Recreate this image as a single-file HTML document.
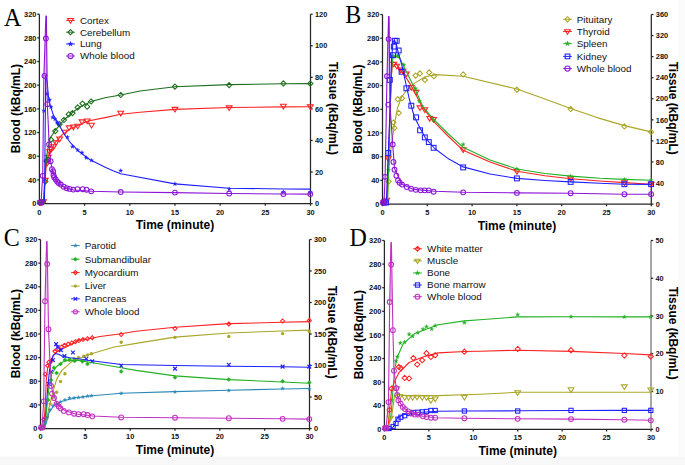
<!DOCTYPE html><html><head><meta charset="utf-8"><style>html,body{margin:0;padding:0;background:#fff;}svg{display:block;}</style></head><body>
<svg width="685" height="465" viewBox="0 0 685 465">
<rect width="685" height="465" fill="#fff"/>
<rect x="0" y="456.5" width="685" height="9" fill="#f7f7f7"/>
<rect x="678" y="0" width="7" height="456.5" fill="#fbfbfb"/>
<g stroke="#262626" stroke-width="1.25" fill="none">
<path d="M39.4 14.2V203.6H310.5"/>
<path d="M310.5 203.6V14.2" stroke="#262626" stroke-width="1.25"/>
<path d="M37.2 203.6H39.4"/>
<path d="M37.2 179.92H39.4"/>
<path d="M37.2 156.25H39.4"/>
<path d="M37.2 132.57H39.4"/>
<path d="M37.2 108.9H39.4"/>
<path d="M37.2 85.22H39.4"/>
<path d="M37.2 61.55H39.4"/>
<path d="M37.2 37.88H39.4"/>
<path d="M37.2 14.2H39.4"/>
<path d="M310.5 203.6H312.7"/>
<path d="M310.5 172.03H312.7"/>
<path d="M310.5 140.47H312.7"/>
<path d="M310.5 108.9H312.7"/>
<path d="M310.5 77.33H312.7"/>
<path d="M310.5 45.77H312.7"/>
<path d="M310.5 14.2H312.7"/>
<path d="M39.4 203.6V205.8"/>
<path d="M84.58 203.6V205.8"/>
<path d="M129.77 203.6V205.8"/>
<path d="M174.95 203.6V205.8"/>
<path d="M220.13 203.6V205.8"/>
<path d="M265.32 203.6V205.8"/>
<path d="M310.5 203.6V205.8"/>
</g>
<g font-family='"Liberation Sans", sans-serif' font-size="7.4" font-weight="bold" fill="#111">
<text transform="translate(36.35 206.3) scale(1 1.08)" text-anchor="end">0</text>
<text transform="translate(36.35 182.62) scale(1 1.08)" text-anchor="end">40</text>
<text transform="translate(36.35 158.95) scale(1 1.08)" text-anchor="end">80</text>
<text transform="translate(36.35 135.27) scale(1 1.08)" text-anchor="end">120</text>
<text transform="translate(36.35 111.6) scale(1 1.08)" text-anchor="end">160</text>
<text transform="translate(36.35 87.92) scale(1 1.08)" text-anchor="end">200</text>
<text transform="translate(36.35 64.25) scale(1 1.08)" text-anchor="end">240</text>
<text transform="translate(36.35 40.58) scale(1 1.08)" text-anchor="end">280</text>
<text transform="translate(36.35 16.9) scale(1 1.08)" text-anchor="end">320</text>
<text transform="translate(315 206.3) scale(1 1.08)" text-anchor="start">0</text>
<text transform="translate(315 174.73) scale(1 1.08)" text-anchor="start">20</text>
<text transform="translate(315 143.17) scale(1 1.08)" text-anchor="start">40</text>
<text transform="translate(315 111.6) scale(1 1.08)" text-anchor="start">60</text>
<text transform="translate(315 80.03) scale(1 1.08)" text-anchor="start">80</text>
<text transform="translate(315 48.47) scale(1 1.08)" text-anchor="start">100</text>
<text transform="translate(315 16.9) scale(1 1.08)" text-anchor="start">120</text>
<text transform="translate(39.4 214.5) scale(1 1.08)" text-anchor="middle">0</text>
<text transform="translate(84.58 214.5) scale(1 1.08)" text-anchor="middle">5</text>
<text transform="translate(129.77 214.5) scale(1 1.08)" text-anchor="middle">10</text>
<text transform="translate(174.95 214.5) scale(1 1.08)" text-anchor="middle">15</text>
<text transform="translate(220.13 214.5) scale(1 1.08)" text-anchor="middle">20</text>
<text transform="translate(265.32 214.5) scale(1 1.08)" text-anchor="middle">25</text>
<text transform="translate(310.5 214.5) scale(1 1.08)" text-anchor="middle">30</text>
</g>
<text x="174.95" y="229.4" font-family='"Liberation Sans", sans-serif' font-size="12" font-weight="bold" text-anchor="middle" fill="#000" >Time (minute)</text>
<text transform="translate(20.2 108.6) rotate(-90)" font-family='"Liberation Sans", sans-serif' font-size="12" font-weight="bold" text-anchor="middle">Blood (kBq/mL)</text>
<text transform="translate(328.9 108.4) rotate(90)" font-family='"Liberation Sans", sans-serif' font-size="12" font-weight="bold" text-anchor="middle">Tissue (kBq/mL)</text>
<text transform="translate(3.9 26.1) scale(1 1.07)" font-family='"Liberation Serif", serif' font-size="24">A</text>
<path d="M66.2 20.4H74.8" stroke="#ff2222" stroke-width="1"/>
<polygon points="67.59,18.59 73.41,18.59 70.5,23.25" fill="white" fill-opacity="0" stroke="#ff2222" stroke-width="1.05"/>
<text x="79.9" y="23.7" font-family='"Liberation Sans", sans-serif' font-size="9.85" font-weight="normal" text-anchor="start" fill="#111" >Cortex</text>
<path d="M66.2 32.2H74.8" stroke="#1d6e1d" stroke-width="1"/>
<polygon points="70.5,29.6 73.1,32.2 70.5,34.8 67.9,32.2" fill="none" stroke="#1d6e1d" stroke-width="1.05"/>
<text x="79.9" y="35.5" font-family='"Liberation Sans", sans-serif' font-size="9.85" font-weight="normal" text-anchor="start" fill="#111" >Cerebellum</text>
<path d="M66.2 44H74.8" stroke="#1f1fff" stroke-width="1"/>
<polygon points="70.5,41.27 71.14,43.12 73.1,43.16 71.54,44.34 72.1,46.21 70.5,45.09 68.9,46.21 69.46,44.34 67.9,43.16 69.86,43.12" fill="#1f1fff" stroke="#1f1fff" stroke-width="0.3"/>
<text x="79.9" y="47.3" font-family='"Liberation Sans", sans-serif' font-size="9.85" font-weight="normal" text-anchor="start" fill="#111" >Lung</text>
<path d="M66.2 56H74.8" stroke="#8c16d8" stroke-width="1"/>
<circle cx="70.5" cy="56" r="2.6" fill="none" stroke="#8c16d8" stroke-width="1.05"/>
<text x="79.9" y="59.3" font-family='"Liberation Sans", sans-serif' font-size="9.85" font-weight="normal" text-anchor="start" fill="#111" >Whole blood</text>
<polyline points="40.5,203.3 43.5,203 44.5,190 46,168 48,157 50.2,151.8 55.3,142.3 62.2,134.6 70.8,128.5 88,121 105,117.6 120.73,114.3 140,112.2 174.95,109.4 229.17,107.5 283.39,106.9 310.3,106.7" fill="none" stroke="#ff2222" stroke-width="1.1" stroke-linejoin="round" stroke-linecap="round" opacity="1.0"/>
<polygon points="37.59,200.69 43.41,200.69 40.5,205.35" fill="white" fill-opacity="0" stroke="#ff2222" stroke-width="1.05"/>
<polygon points="39.09,200.69 44.91,200.69 42,205.35" fill="white" fill-opacity="0" stroke="#ff2222" stroke-width="1.05"/>
<polygon points="40.59,199.69 46.41,199.69 43.5,204.35" fill="white" fill-opacity="0" stroke="#ff2222" stroke-width="1.05"/>
<polygon points="117.82,111.29 123.64,111.29 120.73,115.95" fill="white" fill-opacity="0" stroke="#ff2222" stroke-width="1.05"/>
<polygon points="88.59,123.29 94.41,123.29 91.5,127.95" fill="white" fill-opacity="0" stroke="#ff2222" stroke-width="1.05"/>
<polygon points="84.29,118.99 90.11,118.99 87.2,123.65" fill="white" fill-opacity="0" stroke="#ff2222" stroke-width="1.05"/>
<polygon points="79.09,119.89 84.91,119.89 82,124.55" fill="white" fill-opacity="0" stroke="#ff2222" stroke-width="1.05"/>
<polygon points="74.79,124.19 80.61,124.19 77.7,128.85" fill="white" fill-opacity="0" stroke="#ff2222" stroke-width="1.05"/>
<polygon points="70.49,124.99 76.31,124.99 73.4,129.65" fill="white" fill-opacity="0" stroke="#ff2222" stroke-width="1.05"/>
<polygon points="66.19,125.89 72.01,125.89 69.1,130.55" fill="white" fill-opacity="0" stroke="#ff2222" stroke-width="1.05"/>
<polygon points="61.89,130.19 67.71,130.19 64.8,134.85" fill="white" fill-opacity="0" stroke="#ff2222" stroke-width="1.05"/>
<polygon points="56.69,137.09 62.51,137.09 59.6,141.75" fill="white" fill-opacity="0" stroke="#ff2222" stroke-width="1.05"/>
<polygon points="53.09,140.69 58.91,140.69 56,145.35" fill="white" fill-opacity="0" stroke="#ff2222" stroke-width="1.05"/>
<polygon points="50.69,144.79 56.51,144.79 53.6,149.45" fill="white" fill-opacity="0" stroke="#ff2222" stroke-width="1.05"/>
<polygon points="48.59,147.19 54.41,147.19 51.5,151.85" fill="white" fill-opacity="0" stroke="#ff2222" stroke-width="1.05"/>
<polygon points="46.69,149.69 52.51,149.69 49.6,154.35" fill="white" fill-opacity="0" stroke="#ff2222" stroke-width="1.05"/>
<polygon points="45.39,155.19 51.21,155.19 48.3,159.85" fill="white" fill-opacity="0" stroke="#ff2222" stroke-width="1.05"/>
<polygon points="44.39,161.19 50.21,161.19 47.3,165.85" fill="white" fill-opacity="0" stroke="#ff2222" stroke-width="1.05"/>
<polygon points="42.39,178.39 48.21,178.39 45.3,183.05" fill="white" fill-opacity="0" stroke="#ff2222" stroke-width="1.05"/>
<polygon points="172.04,107.39 177.86,107.39 174.95,112.05" fill="white" fill-opacity="0" stroke="#ff2222" stroke-width="1.05"/>
<polygon points="226.26,105.89 232.08,105.89 229.17,110.55" fill="white" fill-opacity="0" stroke="#ff2222" stroke-width="1.05"/>
<polygon points="280.48,104.29 286.3,104.29 283.39,108.95" fill="white" fill-opacity="0" stroke="#ff2222" stroke-width="1.05"/>
<polygon points="307.39,104.89 313.21,104.89 310.3,109.55" fill="white" fill-opacity="0" stroke="#ff2222" stroke-width="1.05"/>
<polyline points="41,203.3 43.5,200 45,175 46,160 48,148 50.2,138 55.3,130.3 63.9,120 72.5,112.5 80,107 91.1,101.5 105,97.8 120.73,95 140,91 174.95,86.8 229.17,84.6 283.39,83.8 310.3,83.6" fill="none" stroke="#1d6e1d" stroke-width="1.1" stroke-linejoin="round" stroke-linecap="round" opacity="1.0"/>
<polygon points="41,199.9 43.6,202.5 41,205.1 38.4,202.5" fill="none" stroke="#1d6e1d" stroke-width="1.05"/>
<polygon points="43,199.4 45.6,202 43,204.6 40.4,202" fill="none" stroke="#1d6e1d" stroke-width="1.05"/>
<polygon points="120.73,92.4 123.33,95 120.73,97.6 118.13,95" fill="none" stroke="#1d6e1d" stroke-width="1.05"/>
<polygon points="91.1,98.9 93.7,101.5 91.1,104.1 88.5,101.5" fill="none" stroke="#1d6e1d" stroke-width="1.05"/>
<polygon points="87.2,104.1 89.8,106.7 87.2,109.3 84.6,106.7" fill="none" stroke="#1d6e1d" stroke-width="1.05"/>
<polygon points="82.5,101 85.1,103.6 82.5,106.2 79.9,103.6" fill="none" stroke="#1d6e1d" stroke-width="1.05"/>
<polygon points="77.7,104.8 80.3,107.4 77.7,110 75.1,107.4" fill="none" stroke="#1d6e1d" stroke-width="1.05"/>
<polygon points="72.5,110.5 75.1,113.1 72.5,115.7 69.9,113.1" fill="none" stroke="#1d6e1d" stroke-width="1.05"/>
<polygon points="68.7,111.7 71.3,114.3 68.7,116.9 66.1,114.3" fill="none" stroke="#1d6e1d" stroke-width="1.05"/>
<polygon points="63.9,117.4 66.5,120 63.9,122.6 61.3,120" fill="none" stroke="#1d6e1d" stroke-width="1.05"/>
<polygon points="59.6,121.6 62.2,124.2 59.6,126.8 57,124.2" fill="none" stroke="#1d6e1d" stroke-width="1.05"/>
<polygon points="55.3,128.5 57.9,131.1 55.3,133.7 52.7,131.1" fill="none" stroke="#1d6e1d" stroke-width="1.05"/>
<polygon points="51,137.1 53.6,139.7 51,142.3 48.4,139.7" fill="none" stroke="#1d6e1d" stroke-width="1.05"/>
<polygon points="47.9,157 50.5,159.6 47.9,162.2 45.3,159.6" fill="none" stroke="#1d6e1d" stroke-width="1.05"/>
<polygon points="46.6,158.3 49.2,160.9 46.6,163.5 44,160.9" fill="none" stroke="#1d6e1d" stroke-width="1.05"/>
<polygon points="45.3,179 47.9,181.6 45.3,184.2 42.7,181.6" fill="none" stroke="#1d6e1d" stroke-width="1.05"/>
<polygon points="174.95,84 177.55,86.6 174.95,89.2 172.35,86.6" fill="none" stroke="#1d6e1d" stroke-width="1.05"/>
<polygon points="229.17,82.5 231.77,85.1 229.17,87.7 226.57,85.1" fill="none" stroke="#1d6e1d" stroke-width="1.05"/>
<polygon points="283.39,80.8 285.99,83.4 283.39,86 280.79,83.4" fill="none" stroke="#1d6e1d" stroke-width="1.05"/>
<polygon points="310.3,81 312.9,83.6 310.3,86.2 307.7,83.6" fill="none" stroke="#1d6e1d" stroke-width="1.05"/>
<polyline points="42,203.3 44.5,200 45.7,75.2 47.2,82 48.4,96.7 50.2,105.3 53.6,115.6 58.8,124.2 63.9,133.7 70.8,143.2 79.4,151.8 89.7,159.5 105.2,167.3 113,170.8 120.73,173.8 174.95,183.9 229.17,188.2 283.39,189 310.3,189.1" fill="none" stroke="#1f1fff" stroke-width="1.1" stroke-linejoin="round" stroke-linecap="round" opacity="1.0"/>
<polygon points="47,91.7 47.52,93.19 49.1,93.22 47.84,94.17 48.3,95.68 47,94.78 45.7,95.68 46.16,94.17 44.9,93.22 46.48,93.19" fill="#1f1fff" stroke="#1f1fff" stroke-width="0.3"/>
<polygon points="49.6,97.5 50.12,98.99 51.7,99.02 50.44,99.97 50.9,101.48 49.6,100.58 48.3,101.48 48.76,99.97 47.5,99.02 49.08,98.99" fill="#1f1fff" stroke="#1f1fff" stroke-width="0.3"/>
<polygon points="51,104.8 51.52,106.29 53.1,106.32 51.84,107.27 52.3,108.78 51,107.88 49.7,108.78 50.16,107.27 48.9,106.32 50.48,106.29" fill="#1f1fff" stroke="#1f1fff" stroke-width="0.3"/>
<polygon points="43.8,108.39 44.32,109.89 45.9,109.92 44.64,110.87 45.1,112.38 43.8,111.48 42.5,112.38 42.96,110.87 41.7,109.92 43.28,109.89" fill="#1f1fff" stroke="#1f1fff" stroke-width="0.3"/>
<polygon points="52.7,115.2 53.22,116.69 54.8,116.72 53.54,117.67 54,119.18 52.7,118.28 51.4,119.18 51.86,117.67 50.6,116.72 52.18,116.69" fill="#1f1fff" stroke="#1f1fff" stroke-width="0.3"/>
<polygon points="55,116.89 55.52,118.39 57.1,118.42 55.84,119.37 56.3,120.88 55,119.98 53.7,120.88 54.16,119.37 52.9,118.42 54.48,118.39" fill="#1f1fff" stroke="#1f1fff" stroke-width="0.3"/>
<polygon points="57,120.3 57.52,121.79 59.1,121.82 57.84,122.77 58.3,124.28 57,123.38 55.7,124.28 56.16,122.77 54.9,121.82 56.48,121.79" fill="#1f1fff" stroke="#1f1fff" stroke-width="0.3"/>
<polygon points="58.6,122 59.12,123.49 60.7,123.52 59.44,124.47 59.9,125.98 58.6,125.08 57.3,125.98 57.76,124.47 56.5,123.52 58.08,123.49" fill="#1f1fff" stroke="#1f1fff" stroke-width="0.3"/>
<polygon points="67.4,134.99 67.92,136.49 69.5,136.52 68.24,137.47 68.7,138.98 67.4,138.08 66.1,138.98 66.56,137.47 65.3,136.52 66.88,136.49" fill="#1f1fff" stroke="#1f1fff" stroke-width="0.3"/>
<polygon points="72.5,144.39 73.02,145.89 74.6,145.92 73.34,146.87 73.8,148.38 72.5,147.48 71.2,148.38 71.66,146.87 70.4,145.92 71.98,145.89" fill="#1f1fff" stroke="#1f1fff" stroke-width="0.3"/>
<polygon points="77.7,147.89 78.22,149.39 79.8,149.42 78.54,150.37 79,151.88 77.7,150.98 76.4,151.88 76.86,150.37 75.6,149.42 77.18,149.39" fill="#1f1fff" stroke="#1f1fff" stroke-width="0.3"/>
<polygon points="82,150.39 82.52,151.89 84.1,151.92 82.84,152.87 83.3,154.38 82,153.48 80.7,154.38 81.16,152.87 79.9,151.92 81.48,151.89" fill="#1f1fff" stroke="#1f1fff" stroke-width="0.3"/>
<polygon points="86.3,155.59 86.82,157.09 88.4,157.12 87.14,158.07 87.6,159.58 86.3,158.68 85,159.58 85.46,158.07 84.2,157.12 85.78,157.09" fill="#1f1fff" stroke="#1f1fff" stroke-width="0.3"/>
<polygon points="91.5,158.19 92.02,159.69 93.6,159.72 92.34,160.67 92.8,162.18 91.5,161.28 90.2,162.18 90.66,160.67 89.4,159.72 90.98,159.69" fill="#1f1fff" stroke="#1f1fff" stroke-width="0.3"/>
<polygon points="120.73,168.49 121.25,169.99 122.83,170.02 121.57,170.97 122.03,172.48 120.73,171.58 119.43,172.48 119.89,170.97 118.63,170.02 120.21,169.99" fill="#1f1fff" stroke="#1f1fff" stroke-width="0.3"/>
<polygon points="174.95,181.69 175.47,183.19 177.05,183.22 175.79,184.17 176.25,185.68 174.95,184.78 173.65,185.68 174.11,184.17 172.85,183.22 174.43,183.19" fill="#1f1fff" stroke="#1f1fff" stroke-width="0.3"/>
<polygon points="229.17,186.79 229.69,188.29 231.27,188.32 230.01,189.27 230.47,190.78 229.17,189.88 227.87,190.78 228.33,189.27 227.07,188.32 228.65,188.29" fill="#1f1fff" stroke="#1f1fff" stroke-width="0.3"/>
<polygon points="283.39,189.79 283.91,191.29 285.49,191.32 284.23,192.27 284.69,193.78 283.39,192.88 282.09,193.78 282.55,192.27 281.29,191.32 282.87,191.29" fill="#1f1fff" stroke="#1f1fff" stroke-width="0.3"/>
<polygon points="310.3,189.79 310.82,191.29 312.4,191.32 311.14,192.27 311.6,193.78 310.3,192.88 309,193.78 309.46,192.27 308.2,191.32 309.78,191.29" fill="#1f1fff" stroke="#1f1fff" stroke-width="0.3"/>
<polygon points="43.9,76 45.9,16 46.5,16 47.6,76" fill="#8c16d8" opacity="0.3"/>
<polyline points="39.4,203.3 41,203 42.7,175.8 43.9,76 45.9,16 46.4,16 47.3,104.5 48.3,125 49.3,148 50.8,162.5 53,172.5 56,180.5 60,184.5 65,187.8 73.7,190 91.7,191.2 120.73,192 174.95,192.6 229.17,193.5 283.39,194 310.3,194.1" fill="none" stroke="#8c16d8" stroke-width="1.1" stroke-linejoin="round" stroke-linecap="round" opacity="1.0"/>
<circle cx="40" cy="202.5" r="2.4" fill="none" stroke="#8c16d8" stroke-width="1.05"/>
<circle cx="41.5" cy="202.5" r="2.4" fill="none" stroke="#8c16d8" stroke-width="1.05"/>
<circle cx="42.7" cy="175.8" r="2.4" fill="none" stroke="#8c16d8" stroke-width="1.05"/>
<circle cx="44.5" cy="75.8" r="2.4" fill="none" stroke="#8c16d8" stroke-width="1.05"/>
<circle cx="45.9" cy="38.5" r="2.4" fill="none" stroke="#8c16d8" stroke-width="1.05"/>
<circle cx="47.3" cy="104.2" r="2.4" fill="none" stroke="#8c16d8" stroke-width="1.05"/>
<circle cx="49.1" cy="144.4" r="2.4" fill="none" stroke="#8c16d8" stroke-width="1.05"/>
<circle cx="50.6" cy="161.2" r="2.4" fill="none" stroke="#8c16d8" stroke-width="1.05"/>
<circle cx="52" cy="169.2" r="2.4" fill="none" stroke="#8c16d8" stroke-width="1.05"/>
<circle cx="53.2" cy="171.4" r="2.4" fill="none" stroke="#8c16d8" stroke-width="1.05"/>
<circle cx="53.5" cy="175" r="2.4" fill="none" stroke="#8c16d8" stroke-width="1.05"/>
<circle cx="54.2" cy="177.2" r="2.4" fill="none" stroke="#8c16d8" stroke-width="1.05"/>
<circle cx="55.7" cy="179.4" r="2.4" fill="none" stroke="#8c16d8" stroke-width="1.05"/>
<circle cx="57.2" cy="181.6" r="2.4" fill="none" stroke="#8c16d8" stroke-width="1.05"/>
<circle cx="58.6" cy="183" r="2.4" fill="none" stroke="#8c16d8" stroke-width="1.05"/>
<circle cx="60.8" cy="184.5" r="2.4" fill="none" stroke="#8c16d8" stroke-width="1.05"/>
<circle cx="63.7" cy="186.7" r="2.4" fill="none" stroke="#8c16d8" stroke-width="1.05"/>
<circle cx="66.7" cy="188.2" r="2.4" fill="none" stroke="#8c16d8" stroke-width="1.05"/>
<circle cx="69.6" cy="188.9" r="2.4" fill="none" stroke="#8c16d8" stroke-width="1.05"/>
<circle cx="73.2" cy="189.6" r="2.4" fill="none" stroke="#8c16d8" stroke-width="1.05"/>
<circle cx="77.5" cy="189.2" r="2.4" fill="none" stroke="#8c16d8" stroke-width="1.05"/>
<circle cx="82.7" cy="189.2" r="2.4" fill="none" stroke="#8c16d8" stroke-width="1.05"/>
<circle cx="86.5" cy="189.7" r="2.4" fill="none" stroke="#8c16d8" stroke-width="1.05"/>
<circle cx="91.2" cy="191.3" r="2.4" fill="none" stroke="#8c16d8" stroke-width="1.05"/>
<circle cx="120.73" cy="192" r="2.4" fill="none" stroke="#8c16d8" stroke-width="1.05"/>
<circle cx="174.95" cy="192.6" r="2.4" fill="none" stroke="#8c16d8" stroke-width="1.05"/>
<circle cx="229.17" cy="193.5" r="2.4" fill="none" stroke="#8c16d8" stroke-width="1.05"/>
<circle cx="283.39" cy="194.1" r="2.4" fill="none" stroke="#8c16d8" stroke-width="1.05"/>
<circle cx="310.3" cy="194.1" r="2.4" fill="none" stroke="#8c16d8" stroke-width="1.05"/>
<g stroke="#262626" stroke-width="1.25" fill="none">
<path d="M382.5 14.5V204.1H651.3"/>
<path d="M651.3 204.1V14.5" stroke="#262626" stroke-width="1.25"/>
<path d="M380.3 204.1H382.5"/>
<path d="M380.3 180.4H382.5"/>
<path d="M380.3 156.7H382.5"/>
<path d="M380.3 133H382.5"/>
<path d="M380.3 109.3H382.5"/>
<path d="M380.3 85.6H382.5"/>
<path d="M380.3 61.9H382.5"/>
<path d="M380.3 38.2H382.5"/>
<path d="M380.3 14.5H382.5"/>
<path d="M651.3 204.1H653.5"/>
<path d="M651.3 183.03H653.5"/>
<path d="M651.3 161.97H653.5"/>
<path d="M651.3 140.9H653.5"/>
<path d="M651.3 119.83H653.5"/>
<path d="M651.3 98.77H653.5"/>
<path d="M651.3 77.7H653.5"/>
<path d="M651.3 56.63H653.5"/>
<path d="M651.3 35.57H653.5"/>
<path d="M651.3 14.5H653.5"/>
<path d="M382.5 204.1V206.3"/>
<path d="M427.3 204.1V206.3"/>
<path d="M472.1 204.1V206.3"/>
<path d="M516.9 204.1V206.3"/>
<path d="M561.7 204.1V206.3"/>
<path d="M606.5 204.1V206.3"/>
<path d="M651.3 204.1V206.3"/>
</g>
<g font-family='"Liberation Sans", sans-serif' font-size="7.4" font-weight="bold" fill="#111">
<text transform="translate(379.45 206.8) scale(1 1.08)" text-anchor="end">0</text>
<text transform="translate(379.45 183.1) scale(1 1.08)" text-anchor="end">40</text>
<text transform="translate(379.45 159.4) scale(1 1.08)" text-anchor="end">80</text>
<text transform="translate(379.45 135.7) scale(1 1.08)" text-anchor="end">120</text>
<text transform="translate(379.45 112) scale(1 1.08)" text-anchor="end">160</text>
<text transform="translate(379.45 88.3) scale(1 1.08)" text-anchor="end">200</text>
<text transform="translate(379.45 64.6) scale(1 1.08)" text-anchor="end">240</text>
<text transform="translate(379.45 40.9) scale(1 1.08)" text-anchor="end">280</text>
<text transform="translate(379.45 17.2) scale(1 1.08)" text-anchor="end">320</text>
<text transform="translate(655.8 206.8) scale(1 1.08)" text-anchor="start">0</text>
<text transform="translate(655.8 185.73) scale(1 1.08)" text-anchor="start">40</text>
<text transform="translate(655.8 164.67) scale(1 1.08)" text-anchor="start">80</text>
<text transform="translate(655.8 143.6) scale(1 1.08)" text-anchor="start">120</text>
<text transform="translate(655.8 122.53) scale(1 1.08)" text-anchor="start">160</text>
<text transform="translate(655.8 101.47) scale(1 1.08)" text-anchor="start">200</text>
<text transform="translate(655.8 80.4) scale(1 1.08)" text-anchor="start">240</text>
<text transform="translate(655.8 59.33) scale(1 1.08)" text-anchor="start">280</text>
<text transform="translate(655.8 38.27) scale(1 1.08)" text-anchor="start">320</text>
<text transform="translate(655.8 17.2) scale(1 1.08)" text-anchor="start">360</text>
<text transform="translate(382.5 215) scale(1 1.08)" text-anchor="middle">0</text>
<text transform="translate(427.3 215) scale(1 1.08)" text-anchor="middle">5</text>
<text transform="translate(472.1 215) scale(1 1.08)" text-anchor="middle">10</text>
<text transform="translate(516.9 215) scale(1 1.08)" text-anchor="middle">15</text>
<text transform="translate(561.7 215) scale(1 1.08)" text-anchor="middle">20</text>
<text transform="translate(606.5 215) scale(1 1.08)" text-anchor="middle">25</text>
<text transform="translate(651.3 215) scale(1 1.08)" text-anchor="middle">30</text>
</g>
<text x="516.9" y="229.9" font-family='"Liberation Sans", sans-serif' font-size="12" font-weight="bold" text-anchor="middle" fill="#000" >Time (minute)</text>
<text transform="translate(361.8 109.2) rotate(-90)" font-family='"Liberation Sans", sans-serif' font-size="12" font-weight="bold" text-anchor="middle">Blood (kBq/mL)</text>
<text transform="translate(669.4 108.3) rotate(90)" font-family='"Liberation Sans", sans-serif' font-size="12" font-weight="bold" text-anchor="middle">Tissue (kBq/mL)</text>
<text transform="translate(345.2 23.1) scale(1 1.07)" font-family='"Liberation Serif", serif' font-size="24">B</text>
<path d="M563.2 19.3H571.8" stroke="#aaa626" stroke-width="1"/>
<polygon points="567.5,16.7 570.1,19.3 567.5,21.9 564.9,19.3" fill="none" stroke="#aaa626" stroke-width="1.05"/>
<text x="576.8" y="22.6" font-family='"Liberation Sans", sans-serif' font-size="9.85" font-weight="normal" text-anchor="start" fill="#111" >Pituitary</text>
<path d="M563.2 31.5H571.8" stroke="#ff2222" stroke-width="1"/>
<polygon points="564.59,29.69 570.41,29.69 567.5,34.35" fill="white" fill-opacity="0" stroke="#ff2222" stroke-width="1.05"/>
<text x="576.8" y="34.8" font-family='"Liberation Sans", sans-serif' font-size="9.85" font-weight="normal" text-anchor="start" fill="#111" >Thyroid</text>
<path d="M563.2 43.6H571.8" stroke="#22b022" stroke-width="1"/>
<polygon points="567.5,40.87 568.14,42.72 570.1,42.76 568.54,43.94 569.1,45.81 567.5,44.69 565.9,45.81 566.46,43.94 564.9,42.76 566.86,42.72" fill="#22b022" stroke="#22b022" stroke-width="0.3"/>
<text x="576.8" y="46.9" font-family='"Liberation Sans", sans-serif' font-size="9.85" font-weight="normal" text-anchor="start" fill="#111" >Spleen</text>
<path d="M563.2 56.4H571.8" stroke="#1f1fff" stroke-width="1"/>
<rect x="565.16" y="54.06" width="4.68" height="4.68" fill="none" stroke="#1f1fff" stroke-width="1.05"/>
<text x="576.8" y="59.7" font-family='"Liberation Sans", sans-serif' font-size="9.85" font-weight="normal" text-anchor="start" fill="#111" >Kidney</text>
<path d="M563.2 68.6H571.8" stroke="#8c16d8" stroke-width="1"/>
<circle cx="567.5" cy="68.6" r="2.6" fill="none" stroke="#8c16d8" stroke-width="1.05"/>
<text x="576.8" y="71.9" font-family='"Liberation Sans", sans-serif' font-size="9.85" font-weight="normal" text-anchor="start" fill="#111" >Whole blood</text>
<polyline points="384,203.6 386.5,203 387.5,199.3 388.6,170.9 391,147.3 394.5,123.6 397.5,108 401.6,97 406,91 414.6,83.1 425.3,76.7 435.8,74.6 463.14,76.3 516.9,89 545,99.1 570.66,108.5 597,117.6 624.42,125.6 651.1,131.9" fill="none" stroke="#aaa626" stroke-width="1.1" stroke-linejoin="round" stroke-linecap="round" opacity="1.0"/>
<polygon points="384,199.9 386.6,202.5 384,205.1 381.4,202.5" fill="none" stroke="#aaa626" stroke-width="1.05"/>
<polygon points="386,199.4 388.6,202 386,204.6 383.4,202" fill="none" stroke="#aaa626" stroke-width="1.05"/>
<polygon points="388.6,179 391.2,181.6 388.6,184.2 386,181.6" fill="none" stroke="#aaa626" stroke-width="1.05"/>
<polygon points="393.4,119.9 396,122.5 393.4,125.1 390.8,122.5" fill="none" stroke="#aaa626" stroke-width="1.05"/>
<polygon points="394.5,125.3 397.1,127.9 394.5,130.5 391.9,127.9" fill="none" stroke="#aaa626" stroke-width="1.05"/>
<polygon points="398.8,110.4 401.4,113 398.8,115.6 396.2,113" fill="none" stroke="#aaa626" stroke-width="1.05"/>
<polygon points="397.8,96.6 400.4,99.2 397.8,101.8 395.2,99.2" fill="none" stroke="#aaa626" stroke-width="1.05"/>
<polygon points="402,95.6 404.6,98.2 402,100.8 399.4,98.2" fill="none" stroke="#aaa626" stroke-width="1.05"/>
<polygon points="415.6,73 418.2,75.6 415.6,78.2 413,75.6" fill="none" stroke="#aaa626" stroke-width="1.05"/>
<polygon points="419.9,70.8 422.5,73.4 419.9,76 417.3,73.4" fill="none" stroke="#aaa626" stroke-width="1.05"/>
<polygon points="424.9,77.3 427.5,79.9 424.9,82.5 422.3,79.9" fill="none" stroke="#aaa626" stroke-width="1.05"/>
<polygon points="429.2,69.8 431.8,72.4 429.2,75 426.6,72.4" fill="none" stroke="#aaa626" stroke-width="1.05"/>
<polygon points="433.9,73.6 436.5,76.2 433.9,78.8 431.3,76.2" fill="none" stroke="#aaa626" stroke-width="1.05"/>
<polygon points="463.14,71.9 465.74,74.5 463.14,77.1 460.54,74.5" fill="none" stroke="#aaa626" stroke-width="1.05"/>
<polygon points="516.9,87.1 519.5,89.7 516.9,92.3 514.3,89.7" fill="none" stroke="#aaa626" stroke-width="1.05"/>
<polygon points="570.66,106.4 573.26,109 570.66,111.6 568.06,109" fill="none" stroke="#aaa626" stroke-width="1.05"/>
<polygon points="624.42,123.9 627.02,126.5 624.42,129.1 621.82,126.5" fill="none" stroke="#aaa626" stroke-width="1.05"/>
<polygon points="651.1,129.3 653.7,131.9 651.1,134.5 648.5,131.9" fill="none" stroke="#aaa626" stroke-width="1.05"/>
<polyline points="384,203.6 386.7,200 388.3,158.6 390.3,105 391.5,75 392.6,62 395,62.5 399.6,68.9 407.4,79.6 413.2,89.3 421,104.8 432.6,120.3 448,136 463.14,150.3 490,162 516.9,171.3 545,175.8 570.66,178.7 600,181 624.42,182.6 651.1,184.2" fill="none" stroke="#ff2222" stroke-width="1.1" stroke-linejoin="round" stroke-linecap="round" opacity="1.0"/>
<polygon points="381.09,200.69 386.91,200.69 384,205.35" fill="white" fill-opacity="0" stroke="#ff2222" stroke-width="1.05"/>
<polygon points="383.79,198.19 389.61,198.19 386.7,202.85" fill="white" fill-opacity="0" stroke="#ff2222" stroke-width="1.05"/>
<polygon points="385.39,156.79 391.21,156.79 388.3,161.45" fill="white" fill-opacity="0" stroke="#ff2222" stroke-width="1.05"/>
<polygon points="390.89,62.19 396.71,62.19 393.8,66.85" fill="white" fill-opacity="0" stroke="#ff2222" stroke-width="1.05"/>
<polygon points="393.79,64.19 399.61,64.19 396.7,68.85" fill="white" fill-opacity="0" stroke="#ff2222" stroke-width="1.05"/>
<polygon points="397.69,68.09 403.51,68.09 400.6,72.75" fill="white" fill-opacity="0" stroke="#ff2222" stroke-width="1.05"/>
<polygon points="400.09,69.19 405.91,69.19 403,73.85" fill="white" fill-opacity="0" stroke="#ff2222" stroke-width="1.05"/>
<polygon points="403.49,71.99 409.31,71.99 406.4,76.65" fill="white" fill-opacity="0" stroke="#ff2222" stroke-width="1.05"/>
<polygon points="408.39,85.49 414.21,85.49 411.3,90.15" fill="white" fill-opacity="0" stroke="#ff2222" stroke-width="1.05"/>
<polygon points="413.19,90.39 419.01,90.39 416.1,95.05" fill="white" fill-opacity="0" stroke="#ff2222" stroke-width="1.05"/>
<polygon points="417.09,105.89 422.91,105.89 420,110.55" fill="white" fill-opacity="0" stroke="#ff2222" stroke-width="1.05"/>
<polygon points="421.89,107.79 427.71,107.79 424.8,112.45" fill="white" fill-opacity="0" stroke="#ff2222" stroke-width="1.05"/>
<polygon points="426.79,116.49 432.61,116.49 429.7,121.15" fill="white" fill-opacity="0" stroke="#ff2222" stroke-width="1.05"/>
<polygon points="430.59,117.49 436.41,117.49 433.5,122.15" fill="white" fill-opacity="0" stroke="#ff2222" stroke-width="1.05"/>
<polygon points="460.23,147.89 466.05,147.89 463.14,152.55" fill="white" fill-opacity="0" stroke="#ff2222" stroke-width="1.05"/>
<polygon points="513.99,169.49 519.81,169.49 516.9,174.15" fill="white" fill-opacity="0" stroke="#ff2222" stroke-width="1.05"/>
<polygon points="567.75,176.89 573.57,176.89 570.66,181.55" fill="white" fill-opacity="0" stroke="#ff2222" stroke-width="1.05"/>
<polygon points="621.51,180.79 627.33,180.79 624.42,185.45" fill="white" fill-opacity="0" stroke="#ff2222" stroke-width="1.05"/>
<polygon points="648.19,182.39 654.01,182.39 651.1,187.05" fill="white" fill-opacity="0" stroke="#ff2222" stroke-width="1.05"/>
<polyline points="384.5,203.6 387.5,202 389.5,140 391,80 392.2,62 393.4,56.3 396,56 399.6,58.3 407.4,73.8 415.1,89.3 422.9,106.7 432.6,118.3 448,133.5 463.14,147.3 490,160 516.9,169 545,173.5 570.66,176.1 600,178.2 624.42,179.4 651.1,180.3" fill="none" stroke="#22b022" stroke-width="1.1" stroke-linejoin="round" stroke-linecap="round" opacity="1.0"/>
<polygon points="388.5,167.79 389.02,169.29 390.6,169.32 389.34,170.27 389.8,171.78 388.5,170.88 387.2,171.78 387.66,170.27 386.4,169.32 387.98,169.29" fill="#22b022" stroke="#22b022" stroke-width="0.3"/>
<polygon points="392,54 392.52,55.49 394.1,55.52 392.84,56.47 393.3,57.98 392,57.08 390.7,57.98 391.16,56.47 389.9,55.52 391.48,55.49" fill="#22b022" stroke="#22b022" stroke-width="0.3"/>
<polygon points="393.4,54.09 393.92,55.59 395.5,55.62 394.24,56.57 394.7,58.08 393.4,57.18 392.1,58.08 392.56,56.57 391.3,55.62 392.88,55.59" fill="#22b022" stroke="#22b022" stroke-width="0.3"/>
<polygon points="397.7,54.09 398.22,55.59 399.8,55.62 398.54,56.57 399,58.08 397.7,57.18 396.4,58.08 396.86,56.57 395.6,55.62 397.18,55.59" fill="#22b022" stroke="#22b022" stroke-width="0.3"/>
<polygon points="398.4,53 398.92,54.49 400.5,54.52 399.24,55.47 399.7,56.98 398.4,56.08 397.1,56.98 397.56,55.47 396.3,54.52 397.88,54.49" fill="#22b022" stroke="#22b022" stroke-width="0.3"/>
<polygon points="403.8,62.59 404.32,64.09 405.9,64.12 404.64,65.07 405.1,66.58 403.8,65.68 402.5,66.58 402.96,65.07 401.7,64.12 403.28,64.09" fill="#22b022" stroke="#22b022" stroke-width="0.3"/>
<polygon points="415.6,86.3 416.12,87.79 417.7,87.82 416.44,88.77 416.9,90.28 415.6,89.38 414.3,90.28 414.76,88.77 413.5,87.82 415.08,87.79" fill="#22b022" stroke="#22b022" stroke-width="0.3"/>
<polygon points="419.4,99 419.92,100.49 421.5,100.52 420.24,101.47 420.7,102.98 419.4,102.08 418.1,102.98 418.56,101.47 417.3,100.52 418.88,100.49" fill="#22b022" stroke="#22b022" stroke-width="0.3"/>
<polygon points="433.6,117.89 434.12,119.39 435.7,119.42 434.44,120.37 434.9,121.88 433.6,120.98 432.3,121.88 432.76,120.37 431.5,119.42 433.08,119.39" fill="#22b022" stroke="#22b022" stroke-width="0.3"/>
<polygon points="463.14,142.19 463.66,143.69 465.24,143.72 463.98,144.67 464.44,146.18 463.14,145.28 461.84,146.18 462.3,144.67 461.04,143.72 462.62,143.69" fill="#22b022" stroke="#22b022" stroke-width="0.3"/>
<polygon points="516.9,166.79 517.42,168.29 519,168.32 517.74,169.27 518.2,170.78 516.9,169.88 515.6,170.78 516.06,169.27 514.8,168.32 516.38,168.29" fill="#22b022" stroke="#22b022" stroke-width="0.3"/>
<polygon points="570.66,173.89 571.18,175.39 572.76,175.42 571.5,176.37 571.96,177.88 570.66,176.98 569.36,177.88 569.82,176.37 568.56,175.42 570.14,175.39" fill="#22b022" stroke="#22b022" stroke-width="0.3"/>
<polygon points="624.42,177.19 624.94,178.69 626.52,178.72 625.26,179.67 625.72,181.18 624.42,180.28 623.12,181.18 623.58,179.67 622.32,178.72 623.9,178.69" fill="#22b022" stroke="#22b022" stroke-width="0.3"/>
<polygon points="651.1,178.09 651.62,179.59 653.2,179.62 651.94,180.57 652.4,182.08 651.1,181.18 649.8,182.08 650.26,180.57 649,179.62 650.58,179.59" fill="#22b022" stroke="#22b022" stroke-width="0.3"/>
<polyline points="384.5,203.6 386.5,202 388.3,153 390,110 391.5,60 393,42 394.5,40.1 396.7,45.5 397.7,50.5 401.6,64.1 405.4,81.5 409.3,99 414.2,116.4 419,126 425.3,137.8 434.7,148.5 448.9,159.1 463.14,166.9 490,174 516.9,178.4 545,180.5 570.66,181.9 600,183.3 624.42,184.2 651.1,184.4" fill="none" stroke="#1f1fff" stroke-width="1.1" stroke-linejoin="round" stroke-linecap="round" opacity="1.0"/>
<rect x="381.57" y="200.07" width="4.86" height="4.86" fill="none" stroke="#1f1fff" stroke-width="1.05"/>
<rect x="383.57" y="200.07" width="4.86" height="4.86" fill="none" stroke="#1f1fff" stroke-width="1.05"/>
<rect x="385.87" y="150.57" width="4.86" height="4.86" fill="none" stroke="#1f1fff" stroke-width="1.05"/>
<rect x="387.37" y="77.47" width="4.86" height="4.86" fill="none" stroke="#1f1fff" stroke-width="1.05"/>
<rect x="391.37" y="44.17" width="4.86" height="4.86" fill="none" stroke="#1f1fff" stroke-width="1.05"/>
<rect x="392.37" y="38.37" width="4.86" height="4.86" fill="none" stroke="#1f1fff" stroke-width="1.05"/>
<rect x="394.27" y="38.37" width="4.86" height="4.86" fill="none" stroke="#1f1fff" stroke-width="1.05"/>
<rect x="396.27" y="48.07" width="4.86" height="4.86" fill="none" stroke="#1f1fff" stroke-width="1.05"/>
<rect x="390.57" y="52.77" width="4.86" height="4.86" fill="none" stroke="#1f1fff" stroke-width="1.05"/>
<rect x="399.17" y="69.37" width="4.86" height="4.86" fill="none" stroke="#1f1fff" stroke-width="1.05"/>
<rect x="403.97" y="85.87" width="4.86" height="4.86" fill="none" stroke="#1f1fff" stroke-width="1.05"/>
<rect x="408.87" y="103.27" width="4.86" height="4.86" fill="none" stroke="#1f1fff" stroke-width="1.05"/>
<rect x="413.67" y="114.97" width="4.86" height="4.86" fill="none" stroke="#1f1fff" stroke-width="1.05"/>
<rect x="417.67" y="127.87" width="4.86" height="4.86" fill="none" stroke="#1f1fff" stroke-width="1.05"/>
<rect x="422.37" y="134.97" width="4.86" height="4.86" fill="none" stroke="#1f1fff" stroke-width="1.05"/>
<rect x="426.37" y="139.67" width="4.86" height="4.86" fill="none" stroke="#1f1fff" stroke-width="1.05"/>
<rect x="431.17" y="145.37" width="4.86" height="4.86" fill="none" stroke="#1f1fff" stroke-width="1.05"/>
<rect x="460.71" y="164.97" width="4.86" height="4.86" fill="none" stroke="#1f1fff" stroke-width="1.05"/>
<rect x="514.47" y="175.97" width="4.86" height="4.86" fill="none" stroke="#1f1fff" stroke-width="1.05"/>
<rect x="568.23" y="179.47" width="4.86" height="4.86" fill="none" stroke="#1f1fff" stroke-width="1.05"/>
<rect x="621.99" y="181.77" width="4.86" height="4.86" fill="none" stroke="#1f1fff" stroke-width="1.05"/>
<rect x="648.67" y="181.77" width="4.86" height="4.86" fill="none" stroke="#1f1fff" stroke-width="1.05"/>
<polygon points="387,76.2 388.6,16.5 389.1,16.5 389.7,76.2" fill="#8c16d8" opacity="0.3"/>
<polyline points="382.3,203.6 384,203 385.1,176.8 387,76.2 388.6,16.5 389.1,16.5 389.9,104.5 392.7,144.4 394.5,168.6 401.6,183.9 413.5,189.4 434.7,191.3 463.14,192.3 516.9,192.9 570.66,193.2 624.42,194.2 651.1,194.2" fill="none" stroke="#8c16d8" stroke-width="1.1" stroke-linejoin="round" stroke-linecap="round" opacity="1.0"/>
<circle cx="383" cy="202.5" r="2.4" fill="none" stroke="#8c16d8" stroke-width="1.05"/>
<circle cx="384.5" cy="202.5" r="2.4" fill="none" stroke="#8c16d8" stroke-width="1.05"/>
<circle cx="385.1" cy="176.8" r="2.4" fill="none" stroke="#8c16d8" stroke-width="1.05"/>
<circle cx="387" cy="76.2" r="2.4" fill="none" stroke="#8c16d8" stroke-width="1.05"/>
<circle cx="388.6" cy="39.1" r="2.4" fill="none" stroke="#8c16d8" stroke-width="1.05"/>
<circle cx="388.3" cy="104.6" r="2.4" fill="none" stroke="#8c16d8" stroke-width="1.05"/>
<circle cx="392.7" cy="144.4" r="2.4" fill="none" stroke="#8c16d8" stroke-width="1.05"/>
<circle cx="393.4" cy="161.9" r="2.4" fill="none" stroke="#8c16d8" stroke-width="1.05"/>
<circle cx="394.5" cy="169.7" r="2.4" fill="none" stroke="#8c16d8" stroke-width="1.05"/>
<circle cx="396.4" cy="175.7" r="2.4" fill="none" stroke="#8c16d8" stroke-width="1.05"/>
<circle cx="398.1" cy="180.4" r="2.4" fill="none" stroke="#8c16d8" stroke-width="1.05"/>
<circle cx="399.7" cy="182.7" r="2.4" fill="none" stroke="#8c16d8" stroke-width="1.05"/>
<circle cx="402.1" cy="184.6" r="2.4" fill="none" stroke="#8c16d8" stroke-width="1.05"/>
<circle cx="406.8" cy="187" r="2.4" fill="none" stroke="#8c16d8" stroke-width="1.05"/>
<circle cx="411.1" cy="188.7" r="2.4" fill="none" stroke="#8c16d8" stroke-width="1.05"/>
<circle cx="415.8" cy="189.8" r="2.4" fill="none" stroke="#8c16d8" stroke-width="1.05"/>
<circle cx="420.6" cy="190.3" r="2.4" fill="none" stroke="#8c16d8" stroke-width="1.05"/>
<circle cx="424.6" cy="190.3" r="2.4" fill="none" stroke="#8c16d8" stroke-width="1.05"/>
<circle cx="428.8" cy="190.3" r="2.4" fill="none" stroke="#8c16d8" stroke-width="1.05"/>
<circle cx="433.6" cy="191.7" r="2.4" fill="none" stroke="#8c16d8" stroke-width="1.05"/>
<circle cx="463.14" cy="192.3" r="2.4" fill="none" stroke="#8c16d8" stroke-width="1.05"/>
<circle cx="516.9" cy="192.9" r="2.4" fill="none" stroke="#8c16d8" stroke-width="1.05"/>
<circle cx="570.66" cy="193.2" r="2.4" fill="none" stroke="#8c16d8" stroke-width="1.05"/>
<circle cx="624.42" cy="194.2" r="2.4" fill="none" stroke="#8c16d8" stroke-width="1.05"/>
<circle cx="651.1" cy="194.2" r="2.4" fill="none" stroke="#8c16d8" stroke-width="1.05"/>
<g stroke="#262626" stroke-width="1.25" fill="none">
<path d="M40.5 239.5V428.5H309.5"/>
<path d="M309.5 428.5V239.5" stroke="#262626" stroke-width="1.25"/>
<path d="M38.3 428.5H40.5"/>
<path d="M38.3 404.88H40.5"/>
<path d="M38.3 381.25H40.5"/>
<path d="M38.3 357.62H40.5"/>
<path d="M38.3 334H40.5"/>
<path d="M38.3 310.38H40.5"/>
<path d="M38.3 286.75H40.5"/>
<path d="M38.3 263.12H40.5"/>
<path d="M38.3 239.5H40.5"/>
<path d="M309.5 428.5H311.7"/>
<path d="M309.5 397H311.7"/>
<path d="M309.5 365.5H311.7"/>
<path d="M309.5 334H311.7"/>
<path d="M309.5 302.5H311.7"/>
<path d="M309.5 271H311.7"/>
<path d="M309.5 239.5H311.7"/>
<path d="M40.5 428.5V430.7"/>
<path d="M85.33 428.5V430.7"/>
<path d="M130.17 428.5V430.7"/>
<path d="M175 428.5V430.7"/>
<path d="M219.83 428.5V430.7"/>
<path d="M264.67 428.5V430.7"/>
<path d="M309.5 428.5V430.7"/>
</g>
<g font-family='"Liberation Sans", sans-serif' font-size="7.4" font-weight="bold" fill="#111">
<text transform="translate(37.45 431.2) scale(1 1.08)" text-anchor="end">0</text>
<text transform="translate(37.45 407.57) scale(1 1.08)" text-anchor="end">40</text>
<text transform="translate(37.45 383.95) scale(1 1.08)" text-anchor="end">80</text>
<text transform="translate(37.45 360.32) scale(1 1.08)" text-anchor="end">120</text>
<text transform="translate(37.45 336.7) scale(1 1.08)" text-anchor="end">160</text>
<text transform="translate(37.45 313.07) scale(1 1.08)" text-anchor="end">200</text>
<text transform="translate(37.45 289.45) scale(1 1.08)" text-anchor="end">240</text>
<text transform="translate(37.45 265.82) scale(1 1.08)" text-anchor="end">280</text>
<text transform="translate(37.45 242.2) scale(1 1.08)" text-anchor="end">320</text>
<text transform="translate(314 431.2) scale(1 1.08)" text-anchor="start">0</text>
<text transform="translate(314 399.7) scale(1 1.08)" text-anchor="start">50</text>
<text transform="translate(314 368.2) scale(1 1.08)" text-anchor="start">100</text>
<text transform="translate(314 336.7) scale(1 1.08)" text-anchor="start">150</text>
<text transform="translate(314 305.2) scale(1 1.08)" text-anchor="start">200</text>
<text transform="translate(314 273.7) scale(1 1.08)" text-anchor="start">250</text>
<text transform="translate(314 242.2) scale(1 1.08)" text-anchor="start">300</text>
<text transform="translate(40.5 439.4) scale(1 1.08)" text-anchor="middle">0</text>
<text transform="translate(85.33 439.4) scale(1 1.08)" text-anchor="middle">5</text>
<text transform="translate(130.17 439.4) scale(1 1.08)" text-anchor="middle">10</text>
<text transform="translate(175 439.4) scale(1 1.08)" text-anchor="middle">15</text>
<text transform="translate(219.83 439.4) scale(1 1.08)" text-anchor="middle">20</text>
<text transform="translate(264.67 439.4) scale(1 1.08)" text-anchor="middle">25</text>
<text transform="translate(309.5 439.4) scale(1 1.08)" text-anchor="middle">30</text>
</g>
<text x="175" y="454.3" font-family='"Liberation Sans", sans-serif' font-size="12" font-weight="bold" text-anchor="middle" fill="#000" >Time (minute)</text>
<text transform="translate(19.9 333.7) rotate(-90)" font-family='"Liberation Sans", sans-serif' font-size="12" font-weight="bold" text-anchor="middle">Blood (kBq/mL)</text>
<text transform="translate(328.2 332.2) rotate(90)" font-family='"Liberation Sans", sans-serif' font-size="12" font-weight="bold" text-anchor="middle">Tissue (kBq/mL)</text>
<text transform="translate(3.8 246.3) scale(1 1.07)" font-family='"Liberation Serif", serif' font-size="24">C</text>
<path d="M71.1 245.6H79.7" stroke="#2a88b8" stroke-width="1"/>
<polygon points="75.4,243.45 75.91,244.9 77.45,244.93 76.22,245.87 76.67,247.34 75.4,246.46 74.13,247.34 74.58,245.87 73.35,244.93 74.89,244.9" fill="#2a88b8" stroke="#2a88b8" stroke-width="0.3"/>
<text x="84.8" y="248.9" font-family='"Liberation Sans", sans-serif' font-size="9.85" font-weight="normal" text-anchor="start" fill="#111" >Parotid</text>
<path d="M71.1 259.2H79.7" stroke="#22b022" stroke-width="1"/>
<polygon points="75.4,257.15 77.45,259.2 75.4,261.25 73.35,259.2" fill="#22b022" stroke="#22b022" stroke-width="0.5"/>
<text x="84.8" y="262.5" font-family='"Liberation Sans", sans-serif' font-size="9.85" font-weight="normal" text-anchor="start" fill="#111" >Submandibular</text>
<path d="M71.1 272.6H79.7" stroke="#ff2222" stroke-width="1"/>
<polygon points="75.4,270.55 77.45,272.6 75.4,274.65 73.35,272.6" fill="none" stroke="#ff2222" stroke-width="1.05"/>
<text x="84.8" y="275.9" font-family='"Liberation Sans", sans-serif' font-size="9.85" font-weight="normal" text-anchor="start" fill="#111" >Myocardium</text>
<path d="M71.1 286.1H79.7" stroke="#aaa626" stroke-width="1"/>
<circle cx="75.4" cy="286.1" r="1.64" fill="#aaa626"/>
<text x="84.8" y="289.4" font-family='"Liberation Sans", sans-serif' font-size="9.85" font-weight="normal" text-anchor="start" fill="#111" >Liver</text>
<path d="M71.1 298.8H79.7" stroke="#1f1fff" stroke-width="1"/>
<path d="M73.66 297.06L77.14 300.54M73.66 300.54L77.14 297.06" stroke="#1f1fff" stroke-width="1.1550000000000002" fill="none"/>
<text x="84.8" y="302.1" font-family='"Liberation Sans", sans-serif' font-size="9.85" font-weight="normal" text-anchor="start" fill="#111" >Pancreas</text>
<path d="M71.1 311.8H79.7" stroke="#c030c0" stroke-width="1"/>
<circle cx="75.4" cy="311.8" r="2.05" fill="none" stroke="#c030c0" stroke-width="1.05"/>
<text x="84.8" y="315.1" font-family='"Liberation Sans", sans-serif' font-size="9.85" font-weight="normal" text-anchor="start" fill="#111" >Whole blood</text>
<polyline points="41,428.5 43.5,427 45,410 46.3,380 47.6,368.2 50,362.2 53,356 56.1,352.5 60,349.8 64.5,347.7 70,345 78,340.5 87.5,339 100,336.5 121.2,333.8 136,331.2 175,327.2 228.8,323.6 282.6,322.3 309.3,321.6" fill="none" stroke="#ff2222" stroke-width="1.1" stroke-linejoin="round" stroke-linecap="round" opacity="1.0"/>
<polygon points="41.5,425.5 43.5,427.5 41.5,429.5 39.5,427.5" fill="none" stroke="#ff2222" stroke-width="1.05"/>
<polygon points="43.7,417.4 45.7,419.4 43.7,421.4 41.7,419.4" fill="none" stroke="#ff2222" stroke-width="1.05"/>
<polygon points="45.2,372.2 47.2,374.2 45.2,376.2 43.2,374.2" fill="none" stroke="#ff2222" stroke-width="1.05"/>
<polygon points="47.6,363.8 49.6,365.8 47.6,367.8 45.6,365.8" fill="none" stroke="#ff2222" stroke-width="1.05"/>
<polygon points="48.8,360.2 50.8,362.2 48.8,364.2 46.8,362.2" fill="none" stroke="#ff2222" stroke-width="1.05"/>
<polygon points="51.3,359 53.3,361 51.3,363 49.3,361" fill="none" stroke="#ff2222" stroke-width="1.05"/>
<polygon points="54.9,349.3 56.9,351.3 54.9,353.3 52.9,351.3" fill="none" stroke="#ff2222" stroke-width="1.05"/>
<polygon points="58.5,346.9 60.5,348.9 58.5,350.9 56.5,348.9" fill="none" stroke="#ff2222" stroke-width="1.05"/>
<polygon points="61.5,345 63.5,347 61.5,349 59.5,347" fill="none" stroke="#ff2222" stroke-width="1.05"/>
<polygon points="64.5,343.3 66.5,345.3 64.5,347.3 62.5,345.3" fill="none" stroke="#ff2222" stroke-width="1.05"/>
<polygon points="68.1,342.1 70.1,344.1 68.1,346.1 66.1,344.1" fill="none" stroke="#ff2222" stroke-width="1.05"/>
<polygon points="71.7,340.9 73.7,342.9 71.7,344.9 69.7,342.9" fill="none" stroke="#ff2222" stroke-width="1.05"/>
<polygon points="75.3,339.7 77.3,341.7 75.3,343.7 73.3,341.7" fill="none" stroke="#ff2222" stroke-width="1.05"/>
<polygon points="79,338.5 81,340.5 79,342.5 77,340.5" fill="none" stroke="#ff2222" stroke-width="1.05"/>
<polygon points="83,337.5 85,339.5 83,341.5 81,339.5" fill="none" stroke="#ff2222" stroke-width="1.05"/>
<polygon points="87.5,336.7 89.5,338.7 87.5,340.7 85.5,338.7" fill="none" stroke="#ff2222" stroke-width="1.05"/>
<polygon points="92.2,335.7 94.2,337.7 92.2,339.7 90.2,337.7" fill="none" stroke="#ff2222" stroke-width="1.05"/>
<polygon points="121.2,332.5 123.2,334.5 121.2,336.5 119.2,334.5" fill="none" stroke="#ff2222" stroke-width="1.05"/>
<polygon points="175,326.6 177,328.6 175,330.6 173,328.6" fill="none" stroke="#ff2222" stroke-width="1.05"/>
<polygon points="228.8,321.9 230.8,323.9 228.8,325.9 226.8,323.9" fill="none" stroke="#ff2222" stroke-width="1.05"/>
<polygon points="282.6,319 284.6,321 282.6,323 280.6,321" fill="none" stroke="#ff2222" stroke-width="1.05"/>
<polygon points="309.3,318.4 311.3,320.4 309.3,322.4 307.3,320.4" fill="none" stroke="#ff2222" stroke-width="1.05"/>
<polyline points="42,428.5 45,427 48.9,407.8 52.8,392.3 56.6,379.4 61.8,370.4 72.1,361.4 87.5,355 113.3,347.2 136,343.4 175,337.1 228.8,333 282.6,331 309.3,330.1" fill="none" stroke="#aaa626" stroke-width="1.1" stroke-linejoin="round" stroke-linecap="round" opacity="1.0"/>
<circle cx="42.5" cy="427.5" r="1.68" fill="#aaa626"/>
<circle cx="47.5" cy="417" r="1.68" fill="#aaa626"/>
<circle cx="50.2" cy="403.9" r="1.68" fill="#aaa626"/>
<circle cx="52.8" cy="397.5" r="1.68" fill="#aaa626"/>
<circle cx="56.6" cy="392.3" r="1.68" fill="#aaa626"/>
<circle cx="60.5" cy="381.5" r="1.68" fill="#aaa626"/>
<circle cx="64.9" cy="373.8" r="1.68" fill="#aaa626"/>
<circle cx="69.5" cy="360.1" r="1.68" fill="#aaa626"/>
<circle cx="74.1" cy="358.8" r="1.68" fill="#aaa626"/>
<circle cx="78.5" cy="357.5" r="1.68" fill="#aaa626"/>
<circle cx="83.7" cy="356.2" r="1.68" fill="#aaa626"/>
<circle cx="87.5" cy="355" r="1.68" fill="#aaa626"/>
<circle cx="91.4" cy="353.7" r="1.68" fill="#aaa626"/>
<circle cx="121.2" cy="342.3" r="1.68" fill="#aaa626"/>
<circle cx="175" cy="337.4" r="1.68" fill="#aaa626"/>
<circle cx="228.8" cy="336.5" r="1.68" fill="#aaa626"/>
<circle cx="282.6" cy="333.6" r="1.68" fill="#aaa626"/>
<circle cx="309.3" cy="331.5" r="1.68" fill="#aaa626"/>
<polyline points="42,428.5 44.5,427 46.5,405 47.6,389.9 49.5,370 51.5,360 53.5,355 56,353.5 59,354.5 62.1,356.1 70,357.8 78,358.8 87.5,360.3 121.2,364.5 175,365.5 228.8,366.2 282.6,366.8 309.3,367.2" fill="none" stroke="#1f1fff" stroke-width="1.1" stroke-linejoin="round" stroke-linecap="round" opacity="1.0"/>
<path d="M40.63 425.63L44.37 429.37M40.63 429.37L44.37 425.63" stroke="#1f1fff" stroke-width="1.1550000000000002" fill="none"/>
<path d="M46.93 382.03L50.67 385.77M46.93 385.77L50.67 382.03" stroke="#1f1fff" stroke-width="1.1550000000000002" fill="none"/>
<path d="M49.43 369.93L53.17 373.67M49.43 373.67L53.17 369.93" stroke="#1f1fff" stroke-width="1.1550000000000002" fill="none"/>
<path d="M51.13 358.13L54.87 361.87M51.13 361.87L54.87 358.13" stroke="#1f1fff" stroke-width="1.1550000000000002" fill="none"/>
<path d="M54.23 342.23L57.97 345.97M54.23 345.97L57.97 342.23" stroke="#1f1fff" stroke-width="1.1550000000000002" fill="none"/>
<path d="M55.63 345.13L59.37 348.87M55.63 348.87L59.37 345.13" stroke="#1f1fff" stroke-width="1.1550000000000002" fill="none"/>
<path d="M59.03 348.23L62.77 351.97M59.03 351.97L62.77 348.23" stroke="#1f1fff" stroke-width="1.1550000000000002" fill="none"/>
<path d="M62.63 354.23L66.37 357.97M62.63 357.97L66.37 354.23" stroke="#1f1fff" stroke-width="1.1550000000000002" fill="none"/>
<path d="M71.03 350.63L74.77 354.37M71.03 354.37L74.77 350.63" stroke="#1f1fff" stroke-width="1.1550000000000002" fill="none"/>
<path d="M84.43 356.93L88.17 360.67M84.43 360.67L88.17 356.93" stroke="#1f1fff" stroke-width="1.1550000000000002" fill="none"/>
<path d="M90.33 359.53L94.07 363.27M90.33 363.27L94.07 359.53" stroke="#1f1fff" stroke-width="1.1550000000000002" fill="none"/>
<path d="M119.33 363.83L123.07 367.57M119.33 367.57L123.07 363.83" stroke="#1f1fff" stroke-width="1.1550000000000002" fill="none"/>
<path d="M173.13 366.73L176.87 370.47M173.13 370.47L176.87 366.73" stroke="#1f1fff" stroke-width="1.1550000000000002" fill="none"/>
<path d="M226.93 362.93L230.67 366.67M226.93 366.67L230.67 362.93" stroke="#1f1fff" stroke-width="1.1550000000000002" fill="none"/>
<path d="M280.73 364.73L284.47 368.47M280.73 368.47L284.47 364.73" stroke="#1f1fff" stroke-width="1.1550000000000002" fill="none"/>
<path d="M307.43 364.73L311.17 368.47M307.43 368.47L311.17 364.73" stroke="#1f1fff" stroke-width="1.1550000000000002" fill="none"/>
<polyline points="42,428.5 44.5,427 46.3,412.9 48.9,387.2 51.5,374.3 56.6,366.5 64.4,360.9 77.2,360.1 92.7,362.7 121.2,367.8 136,370.4 175,375.9 228.8,379.6 282.6,382 309.3,383.2" fill="none" stroke="#22b022" stroke-width="1.1" stroke-linejoin="round" stroke-linecap="round" opacity="1.0"/>
<polygon points="42.5,425.5 44.5,427.5 42.5,429.5 40.5,427.5" fill="#22b022" stroke="#22b022" stroke-width="0.5"/>
<polygon points="48,398 50,400 48,402 46,400" fill="#22b022" stroke="#22b022" stroke-width="0.5"/>
<polygon points="51,378 53,380 51,382 49,380" fill="#22b022" stroke="#22b022" stroke-width="0.5"/>
<polygon points="54,365.8 56,367.8 54,369.8 52,367.8" fill="#22b022" stroke="#22b022" stroke-width="0.5"/>
<polygon points="56.6,371 58.6,373 56.6,375 54.6,373" fill="#22b022" stroke="#22b022" stroke-width="0.5"/>
<polygon points="60.5,362 62.5,364 60.5,366 58.5,364" fill="#22b022" stroke="#22b022" stroke-width="0.5"/>
<polygon points="64.9,358.1 66.9,360.1 64.9,362.1 62.9,360.1" fill="#22b022" stroke="#22b022" stroke-width="0.5"/>
<polygon points="69.5,357.3 71.5,359.3 69.5,361.3 67.5,359.3" fill="#22b022" stroke="#22b022" stroke-width="0.5"/>
<polygon points="74.7,358.9 76.7,360.9 74.7,362.9 72.7,360.9" fill="#22b022" stroke="#22b022" stroke-width="0.5"/>
<polygon points="82.4,359.4 84.4,361.4 82.4,363.4 80.4,361.4" fill="#22b022" stroke="#22b022" stroke-width="0.5"/>
<polygon points="87.5,362 89.5,364 87.5,366 85.5,364" fill="#22b022" stroke="#22b022" stroke-width="0.5"/>
<polygon points="121.2,369.5 123.2,371.5 121.2,373.5 119.2,371.5" fill="#22b022" stroke="#22b022" stroke-width="0.5"/>
<polygon points="175,375.4 177,377.4 175,379.4 173,377.4" fill="#22b022" stroke="#22b022" stroke-width="0.5"/>
<polygon points="228.8,377.4 230.8,379.4 228.8,381.4 226.8,379.4" fill="#22b022" stroke="#22b022" stroke-width="0.5"/>
<polygon points="282.6,379.2 284.6,381.2 282.6,383.2 280.6,381.2" fill="#22b022" stroke="#22b022" stroke-width="0.5"/>
<polygon points="309.3,380.6 311.3,382.6 309.3,384.6 307.3,382.6" fill="#22b022" stroke="#22b022" stroke-width="0.5"/>
<polyline points="42,428.5 44.5,427 46.3,423.2 48.9,412.9 54,405.2 61.8,401.3 74.7,398 92.7,395.7 121.2,393.2 175,391.6 228.8,390.2 282.6,389 309.3,388.5" fill="none" stroke="#2a88b8" stroke-width="1.1" stroke-linejoin="round" stroke-linecap="round" opacity="1.0"/>
<polygon points="42.5,425.5 42.97,426.85 44.4,426.88 43.26,427.75 43.67,429.11 42.5,428.3 41.33,429.11 41.74,427.75 40.6,426.88 42.03,426.85" fill="#2a88b8" stroke="#2a88b8" stroke-width="0.3"/>
<polygon points="47,416 47.47,417.35 48.9,417.38 47.76,418.25 48.17,419.61 47,418.8 45.83,419.61 46.24,418.25 45.1,417.38 46.53,417.35" fill="#2a88b8" stroke="#2a88b8" stroke-width="0.3"/>
<polygon points="50,408 50.47,409.35 51.9,409.38 50.76,410.25 51.17,411.61 50,410.8 48.83,411.61 49.24,410.25 48.1,409.38 49.53,409.35" fill="#2a88b8" stroke="#2a88b8" stroke-width="0.3"/>
<polygon points="53,404 53.47,405.35 54.9,405.38 53.76,406.25 54.17,407.61 53,406.8 51.83,407.61 52.24,406.25 51.1,405.38 52.53,405.35" fill="#2a88b8" stroke="#2a88b8" stroke-width="0.3"/>
<polygon points="56.6,401.9 57.07,403.25 58.5,403.28 57.36,404.15 57.77,405.51 56.6,404.7 55.43,405.51 55.84,404.15 54.7,403.28 56.13,403.25" fill="#2a88b8" stroke="#2a88b8" stroke-width="0.3"/>
<polygon points="60.5,400.11 60.97,401.45 62.4,401.48 61.26,402.35 61.67,403.71 60.5,402.9 59.33,403.71 59.74,402.35 58.6,401.48 60.03,401.45" fill="#2a88b8" stroke="#2a88b8" stroke-width="0.3"/>
<polygon points="64.9,398 65.37,399.35 66.8,399.38 65.66,400.25 66.07,401.61 64.9,400.8 63.73,401.61 64.14,400.25 63,399.38 64.43,399.35" fill="#2a88b8" stroke="#2a88b8" stroke-width="0.3"/>
<polygon points="69.5,396 69.97,397.35 71.4,397.38 70.26,398.25 70.67,399.61 69.5,398.8 68.33,399.61 68.74,398.25 67.6,397.38 69.03,397.35" fill="#2a88b8" stroke="#2a88b8" stroke-width="0.3"/>
<polygon points="74.1,396 74.57,397.35 76,397.38 74.86,398.25 75.27,399.61 74.1,398.8 72.93,399.61 73.34,398.25 72.2,397.38 73.63,397.35" fill="#2a88b8" stroke="#2a88b8" stroke-width="0.3"/>
<polygon points="78.5,395.5 78.97,396.85 80.4,396.88 79.26,397.75 79.67,399.11 78.5,398.3 77.33,399.11 77.74,397.75 76.6,396.88 78.03,396.85" fill="#2a88b8" stroke="#2a88b8" stroke-width="0.3"/>
<polygon points="83,395 83.47,396.35 84.9,396.38 83.76,397.25 84.17,398.61 83,397.8 81.83,398.61 82.24,397.25 81.1,396.38 82.53,396.35" fill="#2a88b8" stroke="#2a88b8" stroke-width="0.3"/>
<polygon points="87.5,394.2 87.97,395.55 89.4,395.58 88.26,396.45 88.67,397.81 87.5,397 86.33,397.81 86.74,396.45 85.6,395.58 87.03,395.55" fill="#2a88b8" stroke="#2a88b8" stroke-width="0.3"/>
<polygon points="91.4,393.7 91.87,395.05 93.3,395.08 92.16,395.95 92.57,397.31 91.4,396.5 90.23,397.31 90.64,395.95 89.5,395.08 90.93,395.05" fill="#2a88b8" stroke="#2a88b8" stroke-width="0.3"/>
<polygon points="121.2,391.4 121.67,392.75 123.1,392.78 121.96,393.65 122.37,395.01 121.2,394.2 120.03,395.01 120.44,393.65 119.3,392.78 120.73,392.75" fill="#2a88b8" stroke="#2a88b8" stroke-width="0.3"/>
<polygon points="175,390 175.47,391.35 176.9,391.38 175.76,392.25 176.17,393.61 175,392.8 173.83,393.61 174.24,392.25 173.1,391.38 174.53,391.35" fill="#2a88b8" stroke="#2a88b8" stroke-width="0.3"/>
<polygon points="228.8,388.5 229.27,389.85 230.7,389.88 229.56,390.75 229.97,392.11 228.8,391.3 227.63,392.11 228.04,390.75 226.9,389.88 228.33,389.85" fill="#2a88b8" stroke="#2a88b8" stroke-width="0.3"/>
<polygon points="282.6,386.5 283.07,387.85 284.5,387.88 283.36,388.75 283.77,390.11 282.6,389.3 281.43,390.11 281.84,388.75 280.7,387.88 282.13,387.85" fill="#2a88b8" stroke="#2a88b8" stroke-width="0.3"/>
<polygon points="309.3,387 309.77,388.35 311.2,388.38 310.06,389.25 310.47,390.61 309.3,389.8 308.13,390.61 308.54,389.25 307.4,388.38 308.83,388.35" fill="#2a88b8" stroke="#2a88b8" stroke-width="0.3"/>
<polygon points="45,301.2 46.5,241.5 47.1,241.5 48.1,301.2" fill="#c030c0" opacity="0.3"/>
<polyline points="40.5,428.5 42,428 43.7,401.3 45,301.2 46.6,241.5 47.1,241.5 48.5,329.2 50.2,366.5 52,389.7 56.6,402.6 64.4,410.4 74.7,413.7 92.7,416 121.2,417.3 175,417.7 228.8,418.2 282.6,418.8 309.3,419.1" fill="none" stroke="#c030c0" stroke-width="1.1" stroke-linejoin="round" stroke-linecap="round" opacity="1.0"/>
<circle cx="41" cy="427.5" r="2.4" fill="none" stroke="#c030c0" stroke-width="1.05"/>
<circle cx="42.5" cy="427.5" r="2.4" fill="none" stroke="#c030c0" stroke-width="1.05"/>
<circle cx="43.7" cy="401.3" r="2.4" fill="none" stroke="#c030c0" stroke-width="1.05"/>
<circle cx="45" cy="301.2" r="2.4" fill="none" stroke="#c030c0" stroke-width="1.05"/>
<circle cx="47.2" cy="264" r="2.4" fill="none" stroke="#c030c0" stroke-width="1.05"/>
<circle cx="48.5" cy="329.2" r="2.4" fill="none" stroke="#c030c0" stroke-width="1.05"/>
<circle cx="51" cy="385.9" r="2.4" fill="none" stroke="#c030c0" stroke-width="1.05"/>
<circle cx="52" cy="393.6" r="2.4" fill="none" stroke="#c030c0" stroke-width="1.05"/>
<circle cx="54" cy="398" r="2.4" fill="none" stroke="#c030c0" stroke-width="1.05"/>
<circle cx="56.6" cy="403.9" r="2.4" fill="none" stroke="#c030c0" stroke-width="1.05"/>
<circle cx="58.7" cy="406.5" r="2.4" fill="none" stroke="#c030c0" stroke-width="1.05"/>
<circle cx="60.5" cy="408.3" r="2.4" fill="none" stroke="#c030c0" stroke-width="1.05"/>
<circle cx="63.8" cy="410.9" r="2.4" fill="none" stroke="#c030c0" stroke-width="1.05"/>
<circle cx="69" cy="412.4" r="2.4" fill="none" stroke="#c030c0" stroke-width="1.05"/>
<circle cx="74.1" cy="413.7" r="2.4" fill="none" stroke="#c030c0" stroke-width="1.05"/>
<circle cx="78.5" cy="414.2" r="2.4" fill="none" stroke="#c030c0" stroke-width="1.05"/>
<circle cx="83.7" cy="414.2" r="2.4" fill="none" stroke="#c030c0" stroke-width="1.05"/>
<circle cx="87.5" cy="415" r="2.4" fill="none" stroke="#c030c0" stroke-width="1.05"/>
<circle cx="92.2" cy="416.3" r="2.4" fill="none" stroke="#c030c0" stroke-width="1.05"/>
<circle cx="121.2" cy="417.4" r="2.4" fill="none" stroke="#c030c0" stroke-width="1.05"/>
<circle cx="175" cy="417.7" r="2.4" fill="none" stroke="#c030c0" stroke-width="1.05"/>
<circle cx="228.8" cy="418.2" r="2.4" fill="none" stroke="#c030c0" stroke-width="1.05"/>
<circle cx="282.6" cy="418.8" r="2.4" fill="none" stroke="#c030c0" stroke-width="1.05"/>
<circle cx="309.3" cy="419.1" r="2.4" fill="none" stroke="#c030c0" stroke-width="1.05"/>
<g stroke="#262626" stroke-width="1.25" fill="none">
<path d="M384.4 240.5V429.3H651"/>
<path d="M651 429.3V240.5" stroke="#8a8a8a" stroke-width="1.5"/>
<path d="M382.2 429.3H384.4"/>
<path d="M382.2 405.7H384.4"/>
<path d="M382.2 382.1H384.4"/>
<path d="M382.2 358.5H384.4"/>
<path d="M382.2 334.9H384.4"/>
<path d="M382.2 311.3H384.4"/>
<path d="M382.2 287.7H384.4"/>
<path d="M382.2 264.1H384.4"/>
<path d="M382.2 240.5H384.4"/>
<path d="M651 429.3H653.2"/>
<path d="M651 391.54H653.2"/>
<path d="M651 353.78H653.2"/>
<path d="M651 316.02H653.2"/>
<path d="M651 278.26H653.2"/>
<path d="M651 240.5H653.2"/>
<path d="M384.4 429.3V431.5"/>
<path d="M428.83 429.3V431.5"/>
<path d="M473.27 429.3V431.5"/>
<path d="M517.7 429.3V431.5"/>
<path d="M562.13 429.3V431.5"/>
<path d="M606.57 429.3V431.5"/>
<path d="M651 429.3V431.5"/>
</g>
<g font-family='"Liberation Sans", sans-serif' font-size="7.4" font-weight="bold" fill="#111">
<text transform="translate(381.35 432) scale(1 1.08)" text-anchor="end">0</text>
<text transform="translate(381.35 408.4) scale(1 1.08)" text-anchor="end">40</text>
<text transform="translate(381.35 384.8) scale(1 1.08)" text-anchor="end">80</text>
<text transform="translate(381.35 361.2) scale(1 1.08)" text-anchor="end">120</text>
<text transform="translate(381.35 337.6) scale(1 1.08)" text-anchor="end">160</text>
<text transform="translate(381.35 314) scale(1 1.08)" text-anchor="end">200</text>
<text transform="translate(381.35 290.4) scale(1 1.08)" text-anchor="end">240</text>
<text transform="translate(381.35 266.8) scale(1 1.08)" text-anchor="end">280</text>
<text transform="translate(381.35 243.2) scale(1 1.08)" text-anchor="end">320</text>
<text transform="translate(655.5 432) scale(1 1.08)" text-anchor="start">0</text>
<text transform="translate(655.5 394.24) scale(1 1.08)" text-anchor="start">10</text>
<text transform="translate(655.5 356.48) scale(1 1.08)" text-anchor="start">20</text>
<text transform="translate(655.5 318.72) scale(1 1.08)" text-anchor="start">30</text>
<text transform="translate(655.5 280.96) scale(1 1.08)" text-anchor="start">40</text>
<text transform="translate(655.5 243.2) scale(1 1.08)" text-anchor="start">50</text>
<text transform="translate(384.4 440.2) scale(1 1.08)" text-anchor="middle">0</text>
<text transform="translate(428.83 440.2) scale(1 1.08)" text-anchor="middle">5</text>
<text transform="translate(473.27 440.2) scale(1 1.08)" text-anchor="middle">10</text>
<text transform="translate(517.7 440.2) scale(1 1.08)" text-anchor="middle">15</text>
<text transform="translate(562.13 440.2) scale(1 1.08)" text-anchor="middle">20</text>
<text transform="translate(606.57 440.2) scale(1 1.08)" text-anchor="middle">25</text>
<text transform="translate(651 440.2) scale(1 1.08)" text-anchor="middle">30</text>
</g>
<text x="517.7" y="455.1" font-family='"Liberation Sans", sans-serif' font-size="12" font-weight="bold" text-anchor="middle" fill="#000" >Time (minute)</text>
<text transform="translate(363.2 334.6) rotate(-90)" font-family='"Liberation Sans", sans-serif' font-size="12" font-weight="bold" text-anchor="middle">Blood (kBq/mL)</text>
<text transform="translate(669.3 333.2) rotate(90)" font-family='"Liberation Sans", sans-serif' font-size="12" font-weight="bold" text-anchor="middle">Tissue (kBq/mL)</text>
<text transform="translate(349.5 245.6) scale(1 1.07)" font-family='"Liberation Serif", serif' font-size="24">D</text>
<path d="M413.2 248.8H421.8" stroke="#ff2222" stroke-width="1"/>
<polygon points="417.5,246.4 419.9,248.8 417.5,251.2 415.1,248.8" fill="none" stroke="#ff2222" stroke-width="1.05"/>
<text x="427.1" y="252.1" font-family='"Liberation Sans", sans-serif' font-size="9.85" font-weight="normal" text-anchor="start" fill="#111" >White matter</text>
<path d="M413.2 260.9H421.8" stroke="#aaa626" stroke-width="1"/>
<polygon points="414.81,259.23 420.19,259.23 417.5,263.53" fill="white" fill-opacity="0" stroke="#aaa626" stroke-width="1.05"/>
<text x="427.1" y="264.2" font-family='"Liberation Sans", sans-serif' font-size="9.85" font-weight="normal" text-anchor="start" fill="#111" >Muscle</text>
<path d="M413.2 273H421.8" stroke="#22b022" stroke-width="1"/>
<polygon points="417.5,270.48 418.09,272.18 419.9,272.22 418.46,273.31 418.98,275.04 417.5,274.01 416.02,275.04 416.54,273.31 415.1,272.22 416.91,272.18" fill="#22b022" stroke="#22b022" stroke-width="0.3"/>
<text x="427.1" y="276.3" font-family='"Liberation Sans", sans-serif' font-size="9.85" font-weight="normal" text-anchor="start" fill="#111" >Bone</text>
<path d="M413.2 285H421.8" stroke="#1f1fff" stroke-width="1"/>
<rect x="415.34" y="282.84" width="4.32" height="4.32" fill="none" stroke="#1f1fff" stroke-width="1.05"/>
<text x="427.1" y="288.3" font-family='"Liberation Sans", sans-serif' font-size="9.85" font-weight="normal" text-anchor="start" fill="#111" >Bone marrow</text>
<path d="M413.2 296.7H421.8" stroke="#c030c0" stroke-width="1"/>
<circle cx="417.5" cy="296.7" r="2.4" fill="none" stroke="#c030c0" stroke-width="1.05"/>
<text x="427.1" y="300" font-family='"Liberation Sans", sans-serif' font-size="9.85" font-weight="normal" text-anchor="start" fill="#111" >Whole blood</text>
<polyline points="385,429 388,428 391,415 393,390 394.5,369.8 397.4,356.7 403.3,343.6 414.9,333.4 438.1,324.7 464.38,320.9 480,319.8 517.7,316.9 571.02,316.8 624.34,316.9 650.8,316.9" fill="none" stroke="#22b022" stroke-width="1.1" stroke-linejoin="round" stroke-linecap="round" opacity="1.0"/>
<polygon points="386,425.8 386.52,427.29 388.1,427.32 386.84,428.27 387.3,429.78 386,428.88 384.7,429.78 385.16,428.27 383.9,427.32 385.48,427.29" fill="#22b022" stroke="#22b022" stroke-width="0.3"/>
<polygon points="391.6,397.8 392.12,399.29 393.7,399.32 392.44,400.27 392.9,401.78 391.6,400.88 390.3,401.78 390.76,400.27 389.5,399.32 391.08,399.29" fill="#22b022" stroke="#22b022" stroke-width="0.3"/>
<polygon points="396,358.8 396.52,360.29 398.1,360.32 396.84,361.27 397.3,362.78 396,361.88 394.7,362.78 395.16,361.27 393.9,360.32 395.48,360.29" fill="#22b022" stroke="#22b022" stroke-width="0.3"/>
<polygon points="397.4,354.5 397.92,355.99 399.5,356.02 398.24,356.97 398.7,358.48 397.4,357.58 396.1,358.48 396.56,356.97 395.3,356.02 396.88,355.99" fill="#22b022" stroke="#22b022" stroke-width="0.3"/>
<polygon points="400.3,340.8 400.82,342.29 402.4,342.32 401.14,343.27 401.6,344.78 400.3,343.88 399,344.78 399.46,343.27 398.2,342.32 399.78,342.29" fill="#22b022" stroke="#22b022" stroke-width="0.3"/>
<polygon points="404.7,340 405.22,341.49 406.8,341.52 405.54,342.47 406,343.98 404.7,343.08 403.4,343.98 403.86,342.47 402.6,341.52 404.18,341.49" fill="#22b022" stroke="#22b022" stroke-width="0.3"/>
<polygon points="409.1,332.1 409.62,333.59 411.2,333.62 409.94,334.57 410.4,336.08 409.1,335.18 407.8,336.08 408.26,334.57 407,333.62 408.58,333.59" fill="#22b022" stroke="#22b022" stroke-width="0.3"/>
<polygon points="412.6,334.1 413.12,335.59 414.7,335.62 413.44,336.57 413.9,338.08 412.6,337.18 411.3,338.08 411.76,336.57 410.5,335.62 412.08,335.59" fill="#22b022" stroke="#22b022" stroke-width="0.3"/>
<polygon points="417.8,330.4 418.32,331.89 419.9,331.92 418.64,332.87 419.1,334.38 417.8,333.48 416.5,334.38 416.96,332.87 415.7,331.92 417.28,331.89" fill="#22b022" stroke="#22b022" stroke-width="0.3"/>
<polygon points="423,326.9 423.52,328.39 425.1,328.42 423.84,329.37 424.3,330.88 423,329.98 421.7,330.88 422.16,329.37 420.9,328.42 422.48,328.39" fill="#22b022" stroke="#22b022" stroke-width="0.3"/>
<polygon points="426.5,324.5 427.02,325.99 428.6,326.02 427.34,326.97 427.8,328.48 426.5,327.58 425.2,328.48 425.66,326.97 424.4,326.02 425.98,325.99" fill="#22b022" stroke="#22b022" stroke-width="0.3"/>
<polygon points="431.7,326.9 432.22,328.39 433.8,328.42 432.54,329.37 433,330.88 431.7,329.98 430.4,330.88 430.86,329.37 429.6,328.42 431.18,328.39" fill="#22b022" stroke="#22b022" stroke-width="0.3"/>
<polygon points="435.2,323.4 435.72,324.89 437.3,324.92 436.04,325.87 436.5,327.38 435.2,326.48 433.9,327.38 434.36,325.87 433.1,324.92 434.68,324.89" fill="#22b022" stroke="#22b022" stroke-width="0.3"/>
<polygon points="464.38,320.5 464.9,321.99 466.48,322.02 465.22,322.97 465.68,324.48 464.38,323.58 463.08,324.48 463.54,322.97 462.28,322.02 463.86,321.99" fill="#22b022" stroke="#22b022" stroke-width="0.3"/>
<polygon points="517.7,312.4 518.22,313.89 519.8,313.92 518.54,314.87 519,316.38 517.7,315.48 516.4,316.38 516.86,314.87 515.6,313.92 517.18,313.89" fill="#22b022" stroke="#22b022" stroke-width="0.3"/>
<polygon points="571.02,314.4 571.54,315.89 573.12,315.92 571.86,316.87 572.32,318.38 571.02,317.48 569.72,318.38 570.18,316.87 568.92,315.92 570.5,315.89" fill="#22b022" stroke="#22b022" stroke-width="0.3"/>
<polygon points="624.34,314.69 624.86,316.19 626.44,316.22 625.18,317.17 625.64,318.68 624.34,317.78 623.04,318.68 623.5,317.17 622.24,316.22 623.82,316.19" fill="#22b022" stroke="#22b022" stroke-width="0.3"/>
<polygon points="650.8,314.69 651.32,316.19 652.9,316.22 651.64,317.17 652.1,318.68 650.8,317.78 649.5,318.68 649.96,317.17 648.7,316.22 650.28,316.19" fill="#22b022" stroke="#22b022" stroke-width="0.3"/>
<polyline points="385,429 388,428 390,405 391.6,390.1 394.5,381.4 398.9,372.7 409.1,362.5 423.6,356.7 438.1,352.9 464.38,351.5 480,351.2 517.7,350.2 571.02,351.4 624.34,353.5 650.8,354.9" fill="none" stroke="#ff2222" stroke-width="1.1" stroke-linejoin="round" stroke-linecap="round" opacity="1.0"/>
<polygon points="386,425.4 388.6,428 386,430.6 383.4,428" fill="none" stroke="#ff2222" stroke-width="1.05"/>
<polygon points="389.5,407.4 392.1,410 389.5,412.6 386.9,410" fill="none" stroke="#ff2222" stroke-width="1.05"/>
<polygon points="391.6,386.1 394.2,388.7 391.6,391.3 389,388.7" fill="none" stroke="#ff2222" stroke-width="1.05"/>
<polygon points="398.9,364.3 401.5,366.9 398.9,369.5 396.3,366.9" fill="none" stroke="#ff2222" stroke-width="1.05"/>
<polygon points="400.9,365.7 403.5,368.3 400.9,370.9 398.3,368.3" fill="none" stroke="#ff2222" stroke-width="1.05"/>
<polygon points="404.7,375.3 407.3,377.9 404.7,380.5 402.1,377.9" fill="none" stroke="#ff2222" stroke-width="1.05"/>
<polygon points="409.1,375.9 411.7,378.5 409.1,381.1 406.5,378.5" fill="none" stroke="#ff2222" stroke-width="1.05"/>
<polygon points="413.4,355.5 416,358.1 413.4,360.7 410.8,358.1" fill="none" stroke="#ff2222" stroke-width="1.05"/>
<polygon points="417.2,361.9 419.8,364.5 417.2,367.1 414.6,364.5" fill="none" stroke="#ff2222" stroke-width="1.05"/>
<polygon points="422.2,357.6 424.8,360.2 422.2,362.8 419.6,360.2" fill="none" stroke="#ff2222" stroke-width="1.05"/>
<polygon points="426.5,350.6 429.1,353.2 426.5,355.8 423.9,353.2" fill="none" stroke="#ff2222" stroke-width="1.05"/>
<polygon points="430.9,354.4 433.5,357 430.9,359.6 428.3,357" fill="none" stroke="#ff2222" stroke-width="1.05"/>
<polygon points="435.2,352.6 437.8,355.2 435.2,357.8 432.6,355.2" fill="none" stroke="#ff2222" stroke-width="1.05"/>
<polygon points="464.38,349.1 466.98,351.7 464.38,354.3 461.78,351.7" fill="none" stroke="#ff2222" stroke-width="1.05"/>
<polygon points="517.7,346.4 520.3,349 517.7,351.6 515.1,349" fill="none" stroke="#ff2222" stroke-width="1.05"/>
<polygon points="571.02,347.6 573.62,350.2 571.02,352.8 568.42,350.2" fill="none" stroke="#ff2222" stroke-width="1.05"/>
<polygon points="624.34,352.9 626.94,355.5 624.34,358.1 621.74,355.5" fill="none" stroke="#ff2222" stroke-width="1.05"/>
<polygon points="650.8,353.8 653.4,356.4 650.8,359 648.2,356.4" fill="none" stroke="#ff2222" stroke-width="1.05"/>
<polyline points="385,429 388,428 391.6,416.3 394.5,395.9 397.4,394.5 409.1,395.9 438.1,395.6 464.38,394.8 480,394.2 517.7,392.3 571.02,392.3 650.8,392.3" fill="none" stroke="#aaa626" stroke-width="1.1" stroke-linejoin="round" stroke-linecap="round" opacity="1.0"/>
<polygon points="383.09,426.19 388.91,426.19 386,430.85" fill="white" fill-opacity="0" stroke="#aaa626" stroke-width="1.05"/>
<polygon points="387.59,416.19 393.41,416.19 390.5,420.85" fill="white" fill-opacity="0" stroke="#aaa626" stroke-width="1.05"/>
<polygon points="393.99,386.89 399.81,386.89 396.9,391.55" fill="white" fill-opacity="0" stroke="#aaa626" stroke-width="1.05"/>
<polygon points="396.59,394.69 402.41,394.69 399.5,399.35" fill="white" fill-opacity="0" stroke="#aaa626" stroke-width="1.05"/>
<polygon points="401.79,395.59 407.61,395.59 404.7,400.25" fill="white" fill-opacity="0" stroke="#aaa626" stroke-width="1.05"/>
<polygon points="405.59,395.59 411.41,395.59 408.5,400.25" fill="white" fill-opacity="0" stroke="#aaa626" stroke-width="1.05"/>
<polygon points="409.69,395.59 415.51,395.59 412.6,400.25" fill="white" fill-opacity="0" stroke="#aaa626" stroke-width="1.05"/>
<polygon points="414.09,395.19 419.91,395.19 417,399.85" fill="white" fill-opacity="0" stroke="#aaa626" stroke-width="1.05"/>
<polygon points="419.29,395.59 425.11,395.59 422.2,400.25" fill="white" fill-opacity="0" stroke="#aaa626" stroke-width="1.05"/>
<polygon points="423.59,395.69 429.41,395.69 426.5,400.35" fill="white" fill-opacity="0" stroke="#aaa626" stroke-width="1.05"/>
<polygon points="427.99,398.49 433.81,398.49 430.9,403.15" fill="white" fill-opacity="0" stroke="#aaa626" stroke-width="1.05"/>
<polygon points="432.29,396.99 438.11,396.99 435.2,401.65" fill="white" fill-opacity="0" stroke="#aaa626" stroke-width="1.05"/>
<polygon points="461.47,395.39 467.29,395.39 464.38,400.05" fill="white" fill-opacity="0" stroke="#aaa626" stroke-width="1.05"/>
<polygon points="514.79,390.79 520.61,390.79 517.7,395.45" fill="white" fill-opacity="0" stroke="#aaa626" stroke-width="1.05"/>
<polygon points="568.11,387.79 573.93,387.79 571.02,392.45" fill="white" fill-opacity="0" stroke="#aaa626" stroke-width="1.05"/>
<polygon points="621.43,384.89 627.25,384.89 624.34,389.55" fill="white" fill-opacity="0" stroke="#aaa626" stroke-width="1.05"/>
<polygon points="647.89,388.09 653.71,388.09 650.8,392.75" fill="white" fill-opacity="0" stroke="#aaa626" stroke-width="1.05"/>
<polyline points="385,429 389,429 391.6,429 394.5,425 397.4,417.7 403.3,414.8 414.9,412.8 438.1,411.3 464.38,411 517.7,410.8 571.02,410.5 624.34,410.4 650.8,410.4" fill="none" stroke="#1f1fff" stroke-width="1.1" stroke-linejoin="round" stroke-linecap="round" opacity="1.0"/>
<rect x="383.88" y="426.38" width="4.23" height="4.23" fill="none" stroke="#1f1fff" stroke-width="1.05"/>
<rect x="386.88" y="426.38" width="4.23" height="4.23" fill="none" stroke="#1f1fff" stroke-width="1.05"/>
<rect x="390.99" y="424.38" width="4.23" height="4.23" fill="none" stroke="#1f1fff" stroke-width="1.05"/>
<rect x="393.88" y="421.38" width="4.23" height="4.23" fill="none" stroke="#1f1fff" stroke-width="1.05"/>
<rect x="395.88" y="417.08" width="4.23" height="4.23" fill="none" stroke="#1f1fff" stroke-width="1.05"/>
<rect x="398.78" y="415.08" width="4.23" height="4.23" fill="none" stroke="#1f1fff" stroke-width="1.05"/>
<rect x="402.58" y="413.58" width="4.23" height="4.23" fill="none" stroke="#1f1fff" stroke-width="1.05"/>
<rect x="406.88" y="411.38" width="4.23" height="4.23" fill="none" stroke="#1f1fff" stroke-width="1.05"/>
<rect x="411.38" y="410.38" width="4.23" height="4.23" fill="none" stroke="#1f1fff" stroke-width="1.05"/>
<rect x="415.88" y="410.19" width="4.23" height="4.23" fill="none" stroke="#1f1fff" stroke-width="1.05"/>
<rect x="420.08" y="409.78" width="4.23" height="4.23" fill="none" stroke="#1f1fff" stroke-width="1.05"/>
<rect x="424.38" y="409.38" width="4.23" height="4.23" fill="none" stroke="#1f1fff" stroke-width="1.05"/>
<rect x="428.78" y="408.38" width="4.23" height="4.23" fill="none" stroke="#1f1fff" stroke-width="1.05"/>
<rect x="433.08" y="408.38" width="4.23" height="4.23" fill="none" stroke="#1f1fff" stroke-width="1.05"/>
<rect x="462.26" y="408.88" width="4.23" height="4.23" fill="none" stroke="#1f1fff" stroke-width="1.05"/>
<rect x="515.59" y="408.88" width="4.23" height="4.23" fill="none" stroke="#1f1fff" stroke-width="1.05"/>
<rect x="568.9" y="408.28" width="4.23" height="4.23" fill="none" stroke="#1f1fff" stroke-width="1.05"/>
<rect x="622.22" y="408.28" width="4.23" height="4.23" fill="none" stroke="#1f1fff" stroke-width="1.05"/>
<rect x="648.68" y="408.28" width="4.23" height="4.23" fill="none" stroke="#1f1fff" stroke-width="1.05"/>
<polygon points="389.7,302 390.9,242.5 391.4,242.5 392.2,302" fill="#c030c0" opacity="0.3"/>
<polyline points="384.4,429 386,428.5 388.5,402.1 389.7,302 390.9,242.5 391.4,242.5 392.9,330.2 394,370.7 396.2,388.2 398.4,400.3 402.8,406.9 408.3,411.3 414.9,414.6 423,416.3 435.2,417.7 464.38,418.2 517.7,418.8 571.02,419.1 624.34,419.7 650.8,420.3" fill="none" stroke="#c030c0" stroke-width="1.1" stroke-linejoin="round" stroke-linecap="round" opacity="1.0"/>
<circle cx="385" cy="428" r="2.4" fill="none" stroke="#c030c0" stroke-width="1.05"/>
<circle cx="386.5" cy="428" r="2.4" fill="none" stroke="#c030c0" stroke-width="1.05"/>
<circle cx="388.5" cy="402.1" r="2.4" fill="none" stroke="#c030c0" stroke-width="1.05"/>
<circle cx="389.7" cy="302" r="2.4" fill="none" stroke="#c030c0" stroke-width="1.05"/>
<circle cx="391.2" cy="264.6" r="2.4" fill="none" stroke="#c030c0" stroke-width="1.05"/>
<circle cx="392.9" cy="330.2" r="2.4" fill="none" stroke="#c030c0" stroke-width="1.05"/>
<circle cx="394" cy="370.7" r="2.4" fill="none" stroke="#c030c0" stroke-width="1.05"/>
<circle cx="396.2" cy="388.2" r="2.4" fill="none" stroke="#c030c0" stroke-width="1.05"/>
<circle cx="397.2" cy="395" r="2.4" fill="none" stroke="#c030c0" stroke-width="1.05"/>
<circle cx="398.4" cy="400.3" r="2.4" fill="none" stroke="#c030c0" stroke-width="1.05"/>
<circle cx="400.6" cy="403.6" r="2.4" fill="none" stroke="#c030c0" stroke-width="1.05"/>
<circle cx="402.8" cy="406.9" r="2.4" fill="none" stroke="#c030c0" stroke-width="1.05"/>
<circle cx="405" cy="409.1" r="2.4" fill="none" stroke="#c030c0" stroke-width="1.05"/>
<circle cx="408.3" cy="411.3" r="2.4" fill="none" stroke="#c030c0" stroke-width="1.05"/>
<circle cx="411.6" cy="413.5" r="2.4" fill="none" stroke="#c030c0" stroke-width="1.05"/>
<circle cx="414.9" cy="414.6" r="2.4" fill="none" stroke="#c030c0" stroke-width="1.05"/>
<circle cx="418.2" cy="414.6" r="2.4" fill="none" stroke="#c030c0" stroke-width="1.05"/>
<circle cx="423" cy="416.3" r="2.4" fill="none" stroke="#c030c0" stroke-width="1.05"/>
<circle cx="426.5" cy="417" r="2.4" fill="none" stroke="#c030c0" stroke-width="1.05"/>
<circle cx="430.9" cy="417.7" r="2.4" fill="none" stroke="#c030c0" stroke-width="1.05"/>
<circle cx="435.2" cy="417.7" r="2.4" fill="none" stroke="#c030c0" stroke-width="1.05"/>
<circle cx="464.38" cy="418.2" r="2.4" fill="none" stroke="#c030c0" stroke-width="1.05"/>
<circle cx="517.7" cy="418.8" r="2.4" fill="none" stroke="#c030c0" stroke-width="1.05"/>
<circle cx="571.02" cy="419.1" r="2.4" fill="none" stroke="#c030c0" stroke-width="1.05"/>
<circle cx="624.34" cy="419.7" r="2.4" fill="none" stroke="#c030c0" stroke-width="1.05"/>
<circle cx="650.8" cy="420.3" r="2.4" fill="none" stroke="#c030c0" stroke-width="1.05"/>
</svg></body></html>
